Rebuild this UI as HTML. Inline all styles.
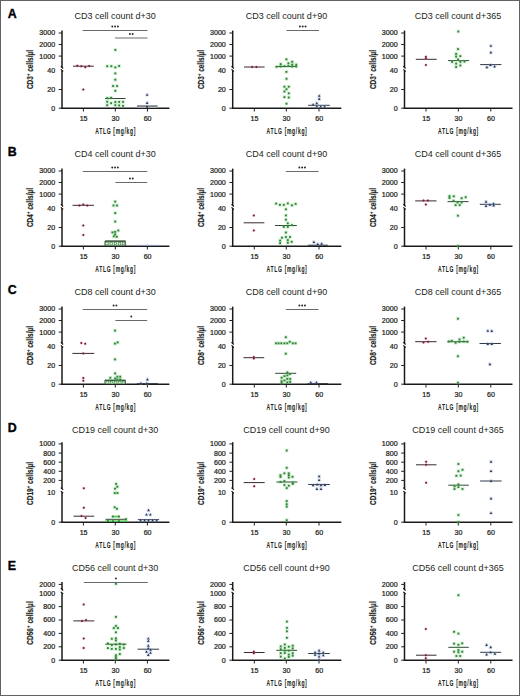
<!DOCTYPE html>
<html><head><meta charset="utf-8"><style>
html,body{margin:0;padding:0;background:#fff;}
body{width:520px;height:696px;overflow:hidden;}
svg{display:block;font-family:"Liberation Sans",sans-serif;fill:#231f20;}
.tk{stroke:#231f20;stroke-width:0.22px;}
</style></head><body>
<svg width="520" height="696" viewBox="0 0 520 696" xmlns="http://www.w3.org/2000/svg">
<rect x="0.5" y="0.5" width="519" height="695" fill="#fff" stroke="#626262" stroke-width="1"/>
<text x="7.8" y="17.9" font-size="12.4" text-anchor="start" font-weight="bold" fill="#000" stroke="#000" stroke-width="0.35">A</text>
<text x="115.2" y="19.3" font-size="9.0" text-anchor="middle">CD3 cell count d+30</text>
<line x1="62" y1="30.6" x2="62" y2="67.1" stroke="#1a1a1a" stroke-width="1.5"/>
<line x1="62" y1="70.8" x2="62" y2="109" stroke="#1a1a1a" stroke-width="1.5"/>
<path d="M60.85 66.3L63.1 68.45" stroke="#111" stroke-width="1.25" fill="none"/>
<path d="M60.85 69.4L63.1 71.55" stroke="#111" stroke-width="1.25" fill="none"/>
<line x1="58.7" y1="33" x2="62" y2="33" stroke="#231f20" stroke-width="1.0"/>
<text x="55.1" y="35.4" font-size="6.8" text-anchor="end" textLength="15.8" lengthAdjust="spacingAndGlyphs" class="tk">3000</text>
<line x1="58.7" y1="44.5" x2="62" y2="44.5" stroke="#231f20" stroke-width="1.0"/>
<text x="55.1" y="46.9" font-size="6.8" text-anchor="end" textLength="15.8" lengthAdjust="spacingAndGlyphs" class="tk">2000</text>
<line x1="58.7" y1="56.1" x2="62" y2="56.1" stroke="#231f20" stroke-width="1.0"/>
<text x="55.1" y="58.5" font-size="6.8" text-anchor="end" textLength="15.8" lengthAdjust="spacingAndGlyphs" class="tk">1000</text>
<text x="55.1" y="73.3" font-size="6.8" text-anchor="end" textLength="7.9" lengthAdjust="spacingAndGlyphs" class="tk">40</text>
<line x1="58.7" y1="89.5" x2="62" y2="89.5" stroke="#231f20" stroke-width="1.0"/>
<text x="55.1" y="91.9" font-size="6.8" text-anchor="end" textLength="7.9" lengthAdjust="spacingAndGlyphs" class="tk">20</text>
<line x1="58.7" y1="108.2" x2="62" y2="108.2" stroke="#231f20" stroke-width="1.0"/>
<text x="55.1" y="110.6" font-size="6.8" text-anchor="end" textLength="3.95" lengthAdjust="spacingAndGlyphs" class="tk">0</text>
<line x1="61.25" y1="108.3" x2="169.4" y2="108.3" stroke="#1a1a1a" stroke-width="1.4"/>
<line x1="83.4" y1="108.3" x2="83.4" y2="111.5" stroke="#231f20" stroke-width="1.0"/>
<text x="83.6" y="120.9" font-size="6.8" text-anchor="middle" textLength="7.9" lengthAdjust="spacingAndGlyphs" class="tk">15</text>
<line x1="115.3" y1="108.3" x2="115.3" y2="111.5" stroke="#231f20" stroke-width="1.0"/>
<text x="115.5" y="120.9" font-size="6.8" text-anchor="middle" textLength="7.9" lengthAdjust="spacingAndGlyphs" class="tk">30</text>
<line x1="147.4" y1="108.3" x2="147.4" y2="111.5" stroke="#231f20" stroke-width="1.0"/>
<text x="147.6" y="120.9" font-size="6.8" text-anchor="middle" textLength="7.9" lengthAdjust="spacingAndGlyphs" class="tk">60</text>
<text transform="translate(115.4,133.7) scale(0.545,1)" font-size="9.2" font-weight="bold" stroke="#231f20" stroke-width="0.1" text-anchor="middle" textLength="73.76" lengthAdjust="spacing">ATLG [mg/kg]</text>
<text transform="translate(33,69.55) rotate(-90) scale(0.68,1)" font-size="9.5" font-weight="bold" stroke="#231f20" stroke-width="0.18" text-anchor="middle" textLength="57.5" lengthAdjust="spacing">CD3<tspan font-size="6.2" dy="-2.9">+</tspan><tspan dy="2.9"> cells/µl</tspan></text>
<rect x="137.2" y="106.2" width="20.2" height="1.4" fill="#c4c8d4"/>
<rect x="146.2" y="106" width="1.8" height="1.8" fill="#303848"/>
<line x1="73" y1="66.2" x2="93.8" y2="66.2" stroke="#3a2830" stroke-width="1.0"/>
<line x1="105" y1="98.5" x2="125.6" y2="98.5" stroke="#2e4a32" stroke-width="1.0"/>
<line x1="137" y1="106" x2="157.6" y2="106" stroke="#333846" stroke-width="1.0"/>
<circle cx="77.3" cy="65.8" r="1.7" fill="#e87896" opacity=".3"/><circle cx="77.3" cy="65.8" r="1.0" fill="#6e1a34"/>
<circle cx="81.3" cy="66.3" r="1.7" fill="#e87896" opacity=".3"/><circle cx="81.3" cy="66.3" r="1.0" fill="#6e1a34"/>
<circle cx="85.3" cy="67.2" r="1.7" fill="#e87896" opacity=".3"/><circle cx="85.3" cy="67.2" r="1.0" fill="#6e1a34"/>
<circle cx="89.2" cy="65.9" r="1.7" fill="#e87896" opacity=".3"/><circle cx="89.2" cy="65.9" r="1.0" fill="#6e1a34"/>
<circle cx="83.3" cy="89.6" r="1.7" fill="#e87896" opacity=".3"/><circle cx="83.3" cy="89.6" r="1.0" fill="#6e1a34"/>
<rect x="113.5" y="48.1" width="3.6" height="3.6" fill="#5ccc5c" opacity=".3"/><rect x="114.4" y="49" width="1.8" height="1.8" fill="#347a3e"/>
<rect x="105.4" y="64.4" width="3.6" height="3.6" fill="#5ccc5c" opacity=".3"/><rect x="106.3" y="65.3" width="1.8" height="1.8" fill="#347a3e"/>
<rect x="109.5" y="64.4" width="3.6" height="3.6" fill="#5ccc5c" opacity=".3"/><rect x="110.4" y="65.3" width="1.8" height="1.8" fill="#347a3e"/>
<rect x="113.5" y="65.6" width="3.6" height="3.6" fill="#5ccc5c" opacity=".3"/><rect x="114.4" y="66.5" width="1.8" height="1.8" fill="#347a3e"/>
<rect x="117.3" y="64.2" width="3.6" height="3.6" fill="#5ccc5c" opacity=".3"/><rect x="118.2" y="65.1" width="1.8" height="1.8" fill="#347a3e"/>
<rect x="113.5" y="71.6" width="3.6" height="3.6" fill="#5ccc5c" opacity=".3"/><rect x="114.4" y="72.5" width="1.8" height="1.8" fill="#347a3e"/>
<rect x="113.5" y="77.9" width="3.6" height="3.6" fill="#5ccc5c" opacity=".3"/><rect x="114.4" y="78.8" width="1.8" height="1.8" fill="#347a3e"/>
<rect x="111.3" y="84.2" width="3.6" height="3.6" fill="#5ccc5c" opacity=".3"/><rect x="112.2" y="85.1" width="1.8" height="1.8" fill="#347a3e"/>
<rect x="115.3" y="84.2" width="3.6" height="3.6" fill="#5ccc5c" opacity=".3"/><rect x="116.2" y="85.1" width="1.8" height="1.8" fill="#347a3e"/>
<rect x="113.5" y="89" width="3.6" height="3.6" fill="#5ccc5c" opacity=".3"/><rect x="114.4" y="89.9" width="1.8" height="1.8" fill="#347a3e"/>
<rect x="105.4" y="96.3" width="3.6" height="3.6" fill="#5ccc5c" opacity=".3"/><rect x="106.3" y="97.2" width="1.8" height="1.8" fill="#347a3e"/>
<rect x="109.3" y="96" width="3.6" height="3.6" fill="#5ccc5c" opacity=".3"/><rect x="110.2" y="96.9" width="1.8" height="1.8" fill="#347a3e"/>
<rect x="105.4" y="99.9" width="3.6" height="3.6" fill="#5ccc5c" opacity=".3"/><rect x="106.3" y="100.8" width="1.8" height="1.8" fill="#347a3e"/>
<rect x="109.3" y="101.4" width="3.6" height="3.6" fill="#5ccc5c" opacity=".3"/><rect x="110.2" y="102.3" width="1.8" height="1.8" fill="#347a3e"/>
<rect x="113.5" y="100.2" width="3.6" height="3.6" fill="#5ccc5c" opacity=".3"/><rect x="114.4" y="101.1" width="1.8" height="1.8" fill="#347a3e"/>
<rect x="117.3" y="100.1" width="3.6" height="3.6" fill="#5ccc5c" opacity=".3"/><rect x="118.2" y="101" width="1.8" height="1.8" fill="#347a3e"/>
<rect x="121.2" y="100.1" width="3.6" height="3.6" fill="#5ccc5c" opacity=".3"/><rect x="122.1" y="101" width="1.8" height="1.8" fill="#347a3e"/>
<rect x="105.4" y="103.4" width="3.6" height="3.6" fill="#5ccc5c" opacity=".3"/><rect x="106.3" y="104.3" width="1.8" height="1.8" fill="#347a3e"/>
<rect x="113.5" y="103.4" width="3.6" height="3.6" fill="#5ccc5c" opacity=".3"/><rect x="114.4" y="104.3" width="1.8" height="1.8" fill="#347a3e"/>
<rect x="117.3" y="103.6" width="3.6" height="3.6" fill="#5ccc5c" opacity=".3"/><rect x="118.2" y="104.5" width="1.8" height="1.8" fill="#347a3e"/>
<rect x="121.2" y="104.1" width="3.6" height="3.6" fill="#5ccc5c" opacity=".3"/><rect x="122.1" y="105" width="1.8" height="1.8" fill="#347a3e"/>
<rect x="145.3" y="93" width="3.6" height="3.6" fill="#8aa4d8" opacity=".3"/><path d="M147.1 93.4L148.4 95.8L145.8 95.8Z" fill="#2c3850"/>
<rect x="145.3" y="101.1" width="3.6" height="3.6" fill="#8aa4d8" opacity=".3"/><path d="M147.1 101.5L148.4 103.9L145.8 103.9Z" fill="#2c3850"/>
<line x1="82.7" y1="30.5" x2="147.5" y2="30.5" stroke="#6a6a6a" stroke-width="1.0"/>
<circle cx="112.3" cy="26.5" r="0.95" fill="#222"/>
<circle cx="115.1" cy="26.5" r="0.95" fill="#222"/>
<circle cx="117.9" cy="26.5" r="0.95" fill="#222"/>
<line x1="115" y1="38" x2="147.5" y2="38" stroke="#6a6a6a" stroke-width="1.0"/>
<circle cx="129.85" cy="34" r="0.95" fill="#222"/>
<circle cx="132.65" cy="34" r="0.95" fill="#222"/>
<text x="286.5" y="19.3" font-size="9.0" text-anchor="middle">CD3 cell count d+90</text>
<line x1="232.7" y1="30.6" x2="232.7" y2="67.1" stroke="#1a1a1a" stroke-width="1.5"/>
<line x1="232.7" y1="70.8" x2="232.7" y2="109" stroke="#1a1a1a" stroke-width="1.5"/>
<path d="M231.55 66.3L233.8 68.45" stroke="#111" stroke-width="1.25" fill="none"/>
<path d="M231.55 69.4L233.8 71.55" stroke="#111" stroke-width="1.25" fill="none"/>
<line x1="229.4" y1="33" x2="232.7" y2="33" stroke="#231f20" stroke-width="1.0"/>
<text x="225.8" y="35.4" font-size="6.8" text-anchor="end" textLength="15.8" lengthAdjust="spacingAndGlyphs" class="tk">3000</text>
<line x1="229.4" y1="44.5" x2="232.7" y2="44.5" stroke="#231f20" stroke-width="1.0"/>
<text x="225.8" y="46.9" font-size="6.8" text-anchor="end" textLength="15.8" lengthAdjust="spacingAndGlyphs" class="tk">2000</text>
<line x1="229.4" y1="56.1" x2="232.7" y2="56.1" stroke="#231f20" stroke-width="1.0"/>
<text x="225.8" y="58.5" font-size="6.8" text-anchor="end" textLength="15.8" lengthAdjust="spacingAndGlyphs" class="tk">1000</text>
<text x="225.8" y="73.3" font-size="6.8" text-anchor="end" textLength="7.9" lengthAdjust="spacingAndGlyphs" class="tk">40</text>
<line x1="229.4" y1="89.5" x2="232.7" y2="89.5" stroke="#231f20" stroke-width="1.0"/>
<text x="225.8" y="91.9" font-size="6.8" text-anchor="end" textLength="7.9" lengthAdjust="spacingAndGlyphs" class="tk">20</text>
<line x1="229.4" y1="108.2" x2="232.7" y2="108.2" stroke="#231f20" stroke-width="1.0"/>
<text x="225.8" y="110.6" font-size="6.8" text-anchor="end" textLength="3.95" lengthAdjust="spacingAndGlyphs" class="tk">0</text>
<line x1="231.95" y1="108.3" x2="341.3" y2="108.3" stroke="#1a1a1a" stroke-width="1.4"/>
<line x1="254.3" y1="108.3" x2="254.3" y2="111.5" stroke="#231f20" stroke-width="1.0"/>
<text x="254.5" y="120.9" font-size="6.8" text-anchor="middle" textLength="7.9" lengthAdjust="spacingAndGlyphs" class="tk">15</text>
<line x1="286.3" y1="108.3" x2="286.3" y2="111.5" stroke="#231f20" stroke-width="1.0"/>
<text x="286.5" y="120.9" font-size="6.8" text-anchor="middle" textLength="7.9" lengthAdjust="spacingAndGlyphs" class="tk">30</text>
<line x1="319" y1="108.3" x2="319" y2="111.5" stroke="#231f20" stroke-width="1.0"/>
<text x="319.2" y="120.9" font-size="6.8" text-anchor="middle" textLength="7.9" lengthAdjust="spacingAndGlyphs" class="tk">60</text>
<text transform="translate(286.7,133.7) scale(0.545,1)" font-size="9.2" font-weight="bold" stroke="#231f20" stroke-width="0.1" text-anchor="middle" textLength="73.76" lengthAdjust="spacing">ATLG [mg/kg]</text>
<text transform="translate(203.7,69.55) rotate(-90) scale(0.68,1)" font-size="9.5" font-weight="bold" stroke="#231f20" stroke-width="0.18" text-anchor="middle" textLength="57.5" lengthAdjust="spacing">CD3<tspan font-size="6.2" dy="-2.9">+</tspan><tspan dy="2.9"> cells/µl</tspan></text>
<line x1="244" y1="67" x2="264.6" y2="67" stroke="#3a2830" stroke-width="1.0"/>
<line x1="276" y1="66.5" x2="297" y2="66.5" stroke="#2e4a32" stroke-width="1.0"/>
<line x1="308.1" y1="105.3" x2="329.8" y2="105.3" stroke="#333846" stroke-width="1.0"/>
<circle cx="252.1" cy="67" r="1.7" fill="#e87896" opacity=".3"/><circle cx="252.1" cy="67" r="1.0" fill="#6e1a34"/>
<circle cx="256.4" cy="67" r="1.7" fill="#e87896" opacity=".3"/><circle cx="256.4" cy="67" r="1.0" fill="#6e1a34"/>
<rect x="284.6" y="57.5" width="3.6" height="3.6" fill="#5ccc5c" opacity=".3"/><rect x="285.5" y="58.4" width="1.8" height="1.8" fill="#347a3e"/>
<rect x="290.4" y="60" width="3.6" height="3.6" fill="#5ccc5c" opacity=".3"/><rect x="291.3" y="60.9" width="1.8" height="1.8" fill="#347a3e"/>
<rect x="278.9" y="62.3" width="3.6" height="3.6" fill="#5ccc5c" opacity=".3"/><rect x="279.8" y="63.2" width="1.8" height="1.8" fill="#347a3e"/>
<rect x="286.6" y="61.5" width="3.6" height="3.6" fill="#5ccc5c" opacity=".3"/><rect x="287.5" y="62.4" width="1.8" height="1.8" fill="#347a3e"/>
<rect x="290.4" y="62.9" width="3.6" height="3.6" fill="#5ccc5c" opacity=".3"/><rect x="291.3" y="63.8" width="1.8" height="1.8" fill="#347a3e"/>
<rect x="294.4" y="62.9" width="3.6" height="3.6" fill="#5ccc5c" opacity=".3"/><rect x="295.3" y="63.8" width="1.8" height="1.8" fill="#347a3e"/>
<rect x="274.7" y="65" width="3.6" height="3.6" fill="#5ccc5c" opacity=".3"/><rect x="275.6" y="65.9" width="1.8" height="1.8" fill="#347a3e"/>
<rect x="278.9" y="64.7" width="3.6" height="3.6" fill="#5ccc5c" opacity=".3"/><rect x="279.8" y="65.6" width="1.8" height="1.8" fill="#347a3e"/>
<rect x="282.7" y="64.4" width="3.6" height="3.6" fill="#5ccc5c" opacity=".3"/><rect x="283.6" y="65.3" width="1.8" height="1.8" fill="#347a3e"/>
<rect x="286.6" y="64.2" width="3.6" height="3.6" fill="#5ccc5c" opacity=".3"/><rect x="287.5" y="65.1" width="1.8" height="1.8" fill="#347a3e"/>
<rect x="290.4" y="64.7" width="3.6" height="3.6" fill="#5ccc5c" opacity=".3"/><rect x="291.3" y="65.6" width="1.8" height="1.8" fill="#347a3e"/>
<rect x="294.4" y="64.7" width="3.6" height="3.6" fill="#5ccc5c" opacity=".3"/><rect x="295.3" y="65.6" width="1.8" height="1.8" fill="#347a3e"/>
<rect x="284.6" y="70.1" width="3.6" height="3.6" fill="#5ccc5c" opacity=".3"/><rect x="285.5" y="71" width="1.8" height="1.8" fill="#347a3e"/>
<rect x="284.7" y="77" width="3.6" height="3.6" fill="#5ccc5c" opacity=".3"/><rect x="285.6" y="77.9" width="1.8" height="1.8" fill="#347a3e"/>
<rect x="282.6" y="84.9" width="3.6" height="3.6" fill="#5ccc5c" opacity=".3"/><rect x="283.5" y="85.8" width="1.8" height="1.8" fill="#347a3e"/>
<rect x="287" y="84.9" width="3.6" height="3.6" fill="#5ccc5c" opacity=".3"/><rect x="287.9" y="85.8" width="1.8" height="1.8" fill="#347a3e"/>
<rect x="284.7" y="87.4" width="3.6" height="3.6" fill="#5ccc5c" opacity=".3"/><rect x="285.6" y="88.3" width="1.8" height="1.8" fill="#347a3e"/>
<rect x="282.6" y="89.7" width="3.6" height="3.6" fill="#5ccc5c" opacity=".3"/><rect x="283.5" y="90.6" width="1.8" height="1.8" fill="#347a3e"/>
<rect x="287" y="91.5" width="3.6" height="3.6" fill="#5ccc5c" opacity=".3"/><rect x="287.9" y="92.4" width="1.8" height="1.8" fill="#347a3e"/>
<rect x="282.6" y="95.3" width="3.6" height="3.6" fill="#5ccc5c" opacity=".3"/><rect x="283.5" y="96.2" width="1.8" height="1.8" fill="#347a3e"/>
<rect x="287" y="95.7" width="3.6" height="3.6" fill="#5ccc5c" opacity=".3"/><rect x="287.9" y="96.6" width="1.8" height="1.8" fill="#347a3e"/>
<rect x="284.7" y="101.9" width="3.6" height="3.6" fill="#5ccc5c" opacity=".3"/><rect x="285.6" y="102.8" width="1.8" height="1.8" fill="#347a3e"/>
<rect x="317.4" y="94" width="3.6" height="3.6" fill="#8aa4d8" opacity=".3"/><path d="M319.2 94.4L320.5 96.8L317.9 96.8Z" fill="#2c3850"/>
<rect x="317.4" y="97.2" width="3.6" height="3.6" fill="#8aa4d8" opacity=".3"/><path d="M319.2 97.6L320.5 100L317.9 100Z" fill="#2c3850"/>
<rect x="315" y="101.4" width="3.6" height="3.6" fill="#8aa4d8" opacity=".3"/><path d="M316.8 101.8L318.1 104.2L315.5 104.2Z" fill="#2c3850"/>
<rect x="311.3" y="102.8" width="3.6" height="3.6" fill="#8aa4d8" opacity=".3"/><path d="M313.1 103.2L314.4 105.6L311.8 105.6Z" fill="#2c3850"/>
<rect x="315" y="104.8" width="3.6" height="3.6" fill="#8aa4d8" opacity=".3"/><path d="M316.8 105.2L318.1 107.6L315.5 107.6Z" fill="#2c3850"/>
<rect x="318.9" y="104.8" width="3.6" height="3.6" fill="#8aa4d8" opacity=".3"/><path d="M320.7 105.2L322 107.6L319.4 107.6Z" fill="#2c3850"/>
<rect x="322.8" y="104.8" width="3.6" height="3.6" fill="#8aa4d8" opacity=".3"/><path d="M324.6 105.2L325.9 107.6L323.3 107.6Z" fill="#2c3850"/>
<line x1="286.4" y1="30.5" x2="319" y2="30.5" stroke="#6a6a6a" stroke-width="1.0"/>
<circle cx="299.9" cy="26.5" r="0.95" fill="#222"/>
<circle cx="302.7" cy="26.5" r="0.95" fill="#222"/>
<circle cx="305.5" cy="26.5" r="0.95" fill="#222"/>
<text x="458" y="19.3" font-size="9.0" text-anchor="middle">CD3 cell count d+365</text>
<line x1="404.5" y1="30.6" x2="404.5" y2="67.1" stroke="#1a1a1a" stroke-width="1.5"/>
<line x1="404.5" y1="70.8" x2="404.5" y2="109" stroke="#1a1a1a" stroke-width="1.5"/>
<path d="M403.35 66.3L405.6 68.45" stroke="#111" stroke-width="1.25" fill="none"/>
<path d="M403.35 69.4L405.6 71.55" stroke="#111" stroke-width="1.25" fill="none"/>
<line x1="401.2" y1="33" x2="404.5" y2="33" stroke="#231f20" stroke-width="1.0"/>
<text x="397.6" y="35.4" font-size="6.8" text-anchor="end" textLength="15.8" lengthAdjust="spacingAndGlyphs" class="tk">3000</text>
<line x1="401.2" y1="44.5" x2="404.5" y2="44.5" stroke="#231f20" stroke-width="1.0"/>
<text x="397.6" y="46.9" font-size="6.8" text-anchor="end" textLength="15.8" lengthAdjust="spacingAndGlyphs" class="tk">2000</text>
<line x1="401.2" y1="56.1" x2="404.5" y2="56.1" stroke="#231f20" stroke-width="1.0"/>
<text x="397.6" y="58.5" font-size="6.8" text-anchor="end" textLength="15.8" lengthAdjust="spacingAndGlyphs" class="tk">1000</text>
<text x="397.6" y="73.3" font-size="6.8" text-anchor="end" textLength="7.9" lengthAdjust="spacingAndGlyphs" class="tk">40</text>
<line x1="401.2" y1="89.5" x2="404.5" y2="89.5" stroke="#231f20" stroke-width="1.0"/>
<text x="397.6" y="91.9" font-size="6.8" text-anchor="end" textLength="7.9" lengthAdjust="spacingAndGlyphs" class="tk">20</text>
<line x1="401.2" y1="108.2" x2="404.5" y2="108.2" stroke="#231f20" stroke-width="1.0"/>
<text x="397.6" y="110.6" font-size="6.8" text-anchor="end" textLength="3.95" lengthAdjust="spacingAndGlyphs" class="tk">0</text>
<line x1="403.75" y1="108.3" x2="512.5" y2="108.3" stroke="#1a1a1a" stroke-width="1.4"/>
<line x1="426" y1="108.3" x2="426" y2="111.5" stroke="#231f20" stroke-width="1.0"/>
<text x="426.2" y="120.9" font-size="6.8" text-anchor="middle" textLength="7.9" lengthAdjust="spacingAndGlyphs" class="tk">15</text>
<line x1="458.3" y1="108.3" x2="458.3" y2="111.5" stroke="#231f20" stroke-width="1.0"/>
<text x="458.5" y="120.9" font-size="6.8" text-anchor="middle" textLength="7.9" lengthAdjust="spacingAndGlyphs" class="tk">30</text>
<line x1="490.8" y1="108.3" x2="490.8" y2="111.5" stroke="#231f20" stroke-width="1.0"/>
<text x="491" y="120.9" font-size="6.8" text-anchor="middle" textLength="7.9" lengthAdjust="spacingAndGlyphs" class="tk">60</text>
<text transform="translate(458.2,133.7) scale(0.545,1)" font-size="9.2" font-weight="bold" stroke="#231f20" stroke-width="0.1" text-anchor="middle" textLength="73.76" lengthAdjust="spacing">ATLG [mg/kg]</text>
<text transform="translate(375.5,69.55) rotate(-90) scale(0.68,1)" font-size="9.5" font-weight="bold" stroke="#231f20" stroke-width="0.18" text-anchor="middle" textLength="57.5" lengthAdjust="spacing">CD3<tspan font-size="6.2" dy="-2.9">+</tspan><tspan dy="2.9"> cells/µl</tspan></text>
<line x1="415.8" y1="59.3" x2="436.7" y2="59.3" stroke="#3a2830" stroke-width="1.0"/>
<line x1="448.1" y1="60.6" x2="469.1" y2="60.6" stroke="#2e4a32" stroke-width="1.0"/>
<line x1="480.2" y1="64.6" x2="501.4" y2="64.6" stroke="#333846" stroke-width="1.0"/>
<circle cx="425.9" cy="56.7" r="1.7" fill="#e87896" opacity=".3"/><circle cx="425.9" cy="56.7" r="1.0" fill="#6e1a34"/>
<circle cx="425.9" cy="58.3" r="1.7" fill="#e87896" opacity=".3"/><circle cx="425.9" cy="58.3" r="1.0" fill="#6e1a34"/>
<circle cx="425.9" cy="65" r="1.7" fill="#e87896" opacity=".3"/><circle cx="425.9" cy="65" r="1.0" fill="#6e1a34"/>
<rect x="456.5" y="29.7" width="3.6" height="3.6" fill="#5ccc5c" opacity=".3"/><rect x="457.4" y="30.6" width="1.8" height="1.8" fill="#347a3e"/>
<rect x="456.2" y="47.3" width="3.6" height="3.6" fill="#5ccc5c" opacity=".3"/><rect x="457.1" y="48.2" width="1.8" height="1.8" fill="#347a3e"/>
<rect x="454.3" y="52.1" width="3.6" height="3.6" fill="#5ccc5c" opacity=".3"/><rect x="455.2" y="53" width="1.8" height="1.8" fill="#347a3e"/>
<rect x="454.3" y="54.8" width="3.6" height="3.6" fill="#5ccc5c" opacity=".3"/><rect x="455.2" y="55.7" width="1.8" height="1.8" fill="#347a3e"/>
<rect x="458.5" y="54.3" width="3.6" height="3.6" fill="#5ccc5c" opacity=".3"/><rect x="459.4" y="55.2" width="1.8" height="1.8" fill="#347a3e"/>
<rect x="456.3" y="57.7" width="3.6" height="3.6" fill="#5ccc5c" opacity=".3"/><rect x="457.2" y="58.6" width="1.8" height="1.8" fill="#347a3e"/>
<rect x="450.3" y="60.1" width="3.6" height="3.6" fill="#5ccc5c" opacity=".3"/><rect x="451.2" y="61" width="1.8" height="1.8" fill="#347a3e"/>
<rect x="458.6" y="60.1" width="3.6" height="3.6" fill="#5ccc5c" opacity=".3"/><rect x="459.5" y="61" width="1.8" height="1.8" fill="#347a3e"/>
<rect x="462.7" y="59.8" width="3.6" height="3.6" fill="#5ccc5c" opacity=".3"/><rect x="463.6" y="60.7" width="1.8" height="1.8" fill="#347a3e"/>
<rect x="454.3" y="61.8" width="3.6" height="3.6" fill="#5ccc5c" opacity=".3"/><rect x="455.2" y="62.7" width="1.8" height="1.8" fill="#347a3e"/>
<rect x="458.5" y="63.7" width="3.6" height="3.6" fill="#5ccc5c" opacity=".3"/><rect x="459.4" y="64.6" width="1.8" height="1.8" fill="#347a3e"/>
<rect x="454.3" y="65.2" width="3.6" height="3.6" fill="#5ccc5c" opacity=".3"/><rect x="455.2" y="66.1" width="1.8" height="1.8" fill="#347a3e"/>
<rect x="489.1" y="44" width="3.6" height="3.6" fill="#8aa4d8" opacity=".3"/><path d="M490.9 44.4L492.2 46.8L489.6 46.8Z" fill="#2c3850"/>
<rect x="489.1" y="50.7" width="3.6" height="3.6" fill="#8aa4d8" opacity=".3"/><path d="M490.9 51.1L492.2 53.5L489.6 53.5Z" fill="#2c3850"/>
<rect x="485.1" y="65.4" width="3.6" height="3.6" fill="#8aa4d8" opacity=".3"/><path d="M486.9 65.8L488.2 68.2L485.6 68.2Z" fill="#2c3850"/>
<rect x="488.7" y="63.3" width="3.6" height="3.6" fill="#8aa4d8" opacity=".3"/><path d="M490.5 63.7L491.8 66.1L489.2 66.1Z" fill="#2c3850"/>
<rect x="492.8" y="64.6" width="3.6" height="3.6" fill="#8aa4d8" opacity=".3"/><path d="M494.6 65L495.9 67.4L493.3 67.4Z" fill="#2c3850"/>
<text x="7.8" y="155.9" font-size="12.4" text-anchor="start" font-weight="bold" fill="#000" stroke="#000" stroke-width="0.35">B</text>
<text x="115.2" y="157.3" font-size="9.0" text-anchor="middle">CD4 cell count d+30</text>
<line x1="62" y1="168.6" x2="62" y2="205.1" stroke="#1a1a1a" stroke-width="1.5"/>
<line x1="62" y1="208.8" x2="62" y2="247" stroke="#1a1a1a" stroke-width="1.5"/>
<path d="M60.85 204.3L63.1 206.45" stroke="#111" stroke-width="1.25" fill="none"/>
<path d="M60.85 207.4L63.1 209.55" stroke="#111" stroke-width="1.25" fill="none"/>
<line x1="58.7" y1="171" x2="62" y2="171" stroke="#231f20" stroke-width="1.0"/>
<text x="55.1" y="173.4" font-size="6.8" text-anchor="end" textLength="15.8" lengthAdjust="spacingAndGlyphs" class="tk">3000</text>
<line x1="58.7" y1="182.5" x2="62" y2="182.5" stroke="#231f20" stroke-width="1.0"/>
<text x="55.1" y="184.9" font-size="6.8" text-anchor="end" textLength="15.8" lengthAdjust="spacingAndGlyphs" class="tk">2000</text>
<line x1="58.7" y1="194.1" x2="62" y2="194.1" stroke="#231f20" stroke-width="1.0"/>
<text x="55.1" y="196.5" font-size="6.8" text-anchor="end" textLength="15.8" lengthAdjust="spacingAndGlyphs" class="tk">1000</text>
<text x="55.1" y="211.3" font-size="6.8" text-anchor="end" textLength="7.9" lengthAdjust="spacingAndGlyphs" class="tk">40</text>
<line x1="58.7" y1="227.5" x2="62" y2="227.5" stroke="#231f20" stroke-width="1.0"/>
<text x="55.1" y="229.9" font-size="6.8" text-anchor="end" textLength="7.9" lengthAdjust="spacingAndGlyphs" class="tk">20</text>
<line x1="58.7" y1="246.2" x2="62" y2="246.2" stroke="#231f20" stroke-width="1.0"/>
<text x="55.1" y="248.6" font-size="6.8" text-anchor="end" textLength="3.95" lengthAdjust="spacingAndGlyphs" class="tk">0</text>
<line x1="61.25" y1="246.3" x2="169.4" y2="246.3" stroke="#1a1a1a" stroke-width="1.4"/>
<line x1="83.4" y1="246.3" x2="83.4" y2="249.5" stroke="#231f20" stroke-width="1.0"/>
<text x="83.6" y="258.9" font-size="6.8" text-anchor="middle" textLength="7.9" lengthAdjust="spacingAndGlyphs" class="tk">15</text>
<line x1="115.3" y1="246.3" x2="115.3" y2="249.5" stroke="#231f20" stroke-width="1.0"/>
<text x="115.5" y="258.9" font-size="6.8" text-anchor="middle" textLength="7.9" lengthAdjust="spacingAndGlyphs" class="tk">30</text>
<line x1="147.4" y1="246.3" x2="147.4" y2="249.5" stroke="#231f20" stroke-width="1.0"/>
<text x="147.6" y="258.9" font-size="6.8" text-anchor="middle" textLength="7.9" lengthAdjust="spacingAndGlyphs" class="tk">60</text>
<text transform="translate(115.4,271.7) scale(0.545,1)" font-size="9.2" font-weight="bold" stroke="#231f20" stroke-width="0.1" text-anchor="middle" textLength="73.76" lengthAdjust="spacing">ATLG [mg/kg]</text>
<text transform="translate(33,207.55) rotate(-90) scale(0.68,1)" font-size="9.5" font-weight="bold" stroke="#231f20" stroke-width="0.18" text-anchor="middle" textLength="57.5" lengthAdjust="spacing">CD4<tspan font-size="6.2" dy="-2.9">+</tspan><tspan dy="2.9"> cells/µl</tspan></text>
<rect x="104.9" y="241.4" width="20.6" height="4.4" fill="#bfeebf" stroke="#24402a" stroke-width="0.7"/>
<rect x="105.8" y="242.4" width="2.4" height="2.4" fill="#e4f8e4" stroke="#3a6a3e" stroke-width="0.5"/>
<rect x="110" y="242.5" width="2.4" height="2.4" fill="#e4f8e4" stroke="#3a6a3e" stroke-width="0.5"/>
<rect x="114.2" y="242.4" width="2.4" height="2.4" fill="#e4f8e4" stroke="#3a6a3e" stroke-width="0.5"/>
<rect x="118.4" y="242.5" width="2.4" height="2.4" fill="#e4f8e4" stroke="#3a6a3e" stroke-width="0.5"/>
<rect x="122.2" y="242.4" width="2.4" height="2.4" fill="#e4f8e4" stroke="#3a6a3e" stroke-width="0.5"/>
<line x1="72.5" y1="205.3" x2="94" y2="205.3" stroke="#3a2830" stroke-width="1.0"/>
<line x1="105" y1="240.9" x2="125.6" y2="240.9" stroke="#2e4a32" stroke-width="1.0"/>
<line x1="137" y1="245.4" x2="159" y2="245.4" stroke="#8a98b8" stroke-width="1.0"/>
<circle cx="79.4" cy="205.5" r="1.7" fill="#e87896" opacity=".3"/><circle cx="79.4" cy="205.5" r="1.0" fill="#6e1a34"/>
<circle cx="83.3" cy="204.4" r="1.7" fill="#e87896" opacity=".3"/><circle cx="83.3" cy="204.4" r="1.0" fill="#6e1a34"/>
<circle cx="87.3" cy="205.6" r="1.7" fill="#e87896" opacity=".3"/><circle cx="87.3" cy="205.6" r="1.0" fill="#6e1a34"/>
<circle cx="83.3" cy="225.4" r="1.7" fill="#e87896" opacity=".3"/><circle cx="83.3" cy="225.4" r="1.0" fill="#6e1a34"/>
<circle cx="83.3" cy="235.1" r="1.7" fill="#e87896" opacity=".3"/><circle cx="83.3" cy="235.1" r="1.0" fill="#6e1a34"/>
<rect x="113.4" y="199.8" width="3.6" height="3.6" fill="#5ccc5c" opacity=".3"/><rect x="114.3" y="200.7" width="1.8" height="1.8" fill="#347a3e"/>
<rect x="111.7" y="203.7" width="3.6" height="3.6" fill="#5ccc5c" opacity=".3"/><rect x="112.6" y="204.6" width="1.8" height="1.8" fill="#347a3e"/>
<rect x="115.2" y="203.7" width="3.6" height="3.6" fill="#5ccc5c" opacity=".3"/><rect x="116.1" y="204.6" width="1.8" height="1.8" fill="#347a3e"/>
<rect x="113.4" y="211.3" width="3.6" height="3.6" fill="#5ccc5c" opacity=".3"/><rect x="114.3" y="212.2" width="1.8" height="1.8" fill="#347a3e"/>
<rect x="113.4" y="219.7" width="3.6" height="3.6" fill="#5ccc5c" opacity=".3"/><rect x="114.3" y="220.6" width="1.8" height="1.8" fill="#347a3e"/>
<rect x="110.6" y="230.6" width="3.6" height="3.6" fill="#5ccc5c" opacity=".3"/><rect x="111.5" y="231.5" width="1.8" height="1.8" fill="#347a3e"/>
<rect x="113.3" y="230.1" width="3.6" height="3.6" fill="#5ccc5c" opacity=".3"/><rect x="114.2" y="231" width="1.8" height="1.8" fill="#347a3e"/>
<rect x="116.5" y="228.7" width="3.6" height="3.6" fill="#5ccc5c" opacity=".3"/><rect x="117.4" y="229.6" width="1.8" height="1.8" fill="#347a3e"/>
<rect x="112" y="234.5" width="3.6" height="3.6" fill="#5ccc5c" opacity=".3"/><rect x="112.9" y="235.4" width="1.8" height="1.8" fill="#347a3e"/>
<rect x="115" y="235" width="3.6" height="3.6" fill="#5ccc5c" opacity=".3"/><rect x="115.9" y="235.9" width="1.8" height="1.8" fill="#347a3e"/>
<rect x="113.3" y="232.6" width="3.6" height="3.6" fill="#5ccc5c" opacity=".3"/><rect x="114.2" y="233.5" width="1.8" height="1.8" fill="#347a3e"/>
<line x1="82.8" y1="171.5" x2="147.3" y2="171.5" stroke="#6a6a6a" stroke-width="1.0"/>
<circle cx="112.25" cy="167.5" r="0.95" fill="#222"/>
<circle cx="115.05" cy="167.5" r="0.95" fill="#222"/>
<circle cx="117.85" cy="167.5" r="0.95" fill="#222"/>
<line x1="115.4" y1="182.5" x2="147.3" y2="182.5" stroke="#6a6a6a" stroke-width="1.0"/>
<circle cx="129.95" cy="178.5" r="0.95" fill="#222"/>
<circle cx="132.75" cy="178.5" r="0.95" fill="#222"/>
<text x="286.5" y="157.3" font-size="9.0" text-anchor="middle">CD4 cell count d+90</text>
<line x1="232.7" y1="168.6" x2="232.7" y2="205.1" stroke="#1a1a1a" stroke-width="1.5"/>
<line x1="232.7" y1="208.8" x2="232.7" y2="247" stroke="#1a1a1a" stroke-width="1.5"/>
<path d="M231.55 204.3L233.8 206.45" stroke="#111" stroke-width="1.25" fill="none"/>
<path d="M231.55 207.4L233.8 209.55" stroke="#111" stroke-width="1.25" fill="none"/>
<line x1="229.4" y1="171" x2="232.7" y2="171" stroke="#231f20" stroke-width="1.0"/>
<text x="225.8" y="173.4" font-size="6.8" text-anchor="end" textLength="15.8" lengthAdjust="spacingAndGlyphs" class="tk">3000</text>
<line x1="229.4" y1="182.5" x2="232.7" y2="182.5" stroke="#231f20" stroke-width="1.0"/>
<text x="225.8" y="184.9" font-size="6.8" text-anchor="end" textLength="15.8" lengthAdjust="spacingAndGlyphs" class="tk">2000</text>
<line x1="229.4" y1="194.1" x2="232.7" y2="194.1" stroke="#231f20" stroke-width="1.0"/>
<text x="225.8" y="196.5" font-size="6.8" text-anchor="end" textLength="15.8" lengthAdjust="spacingAndGlyphs" class="tk">1000</text>
<text x="225.8" y="211.3" font-size="6.8" text-anchor="end" textLength="7.9" lengthAdjust="spacingAndGlyphs" class="tk">40</text>
<line x1="229.4" y1="227.5" x2="232.7" y2="227.5" stroke="#231f20" stroke-width="1.0"/>
<text x="225.8" y="229.9" font-size="6.8" text-anchor="end" textLength="7.9" lengthAdjust="spacingAndGlyphs" class="tk">20</text>
<line x1="229.4" y1="246.2" x2="232.7" y2="246.2" stroke="#231f20" stroke-width="1.0"/>
<text x="225.8" y="248.6" font-size="6.8" text-anchor="end" textLength="3.95" lengthAdjust="spacingAndGlyphs" class="tk">0</text>
<line x1="231.95" y1="246.3" x2="341.3" y2="246.3" stroke="#1a1a1a" stroke-width="1.4"/>
<line x1="254.3" y1="246.3" x2="254.3" y2="249.5" stroke="#231f20" stroke-width="1.0"/>
<text x="254.5" y="258.9" font-size="6.8" text-anchor="middle" textLength="7.9" lengthAdjust="spacingAndGlyphs" class="tk">15</text>
<line x1="286.3" y1="246.3" x2="286.3" y2="249.5" stroke="#231f20" stroke-width="1.0"/>
<text x="286.5" y="258.9" font-size="6.8" text-anchor="middle" textLength="7.9" lengthAdjust="spacingAndGlyphs" class="tk">30</text>
<line x1="319" y1="246.3" x2="319" y2="249.5" stroke="#231f20" stroke-width="1.0"/>
<text x="319.2" y="258.9" font-size="6.8" text-anchor="middle" textLength="7.9" lengthAdjust="spacingAndGlyphs" class="tk">60</text>
<text transform="translate(286.7,271.7) scale(0.545,1)" font-size="9.2" font-weight="bold" stroke="#231f20" stroke-width="0.1" text-anchor="middle" textLength="73.76" lengthAdjust="spacing">ATLG [mg/kg]</text>
<text transform="translate(203.7,207.55) rotate(-90) scale(0.68,1)" font-size="9.5" font-weight="bold" stroke="#231f20" stroke-width="0.18" text-anchor="middle" textLength="57.5" lengthAdjust="spacing">CD4<tspan font-size="6.2" dy="-2.9">+</tspan><tspan dy="2.9"> cells/µl</tspan></text>
<line x1="243.7" y1="222.8" x2="264.4" y2="222.8" stroke="#3a2830" stroke-width="1.0"/>
<line x1="275" y1="225.5" x2="296.8" y2="225.5" stroke="#2e4a32" stroke-width="1.0"/>
<line x1="307.9" y1="245.2" x2="327.8" y2="245.2" stroke="#333846" stroke-width="1.0"/>
<circle cx="253.8" cy="215.4" r="1.7" fill="#e87896" opacity=".3"/><circle cx="253.8" cy="215.4" r="1.0" fill="#6e1a34"/>
<circle cx="253.8" cy="230.4" r="1.7" fill="#e87896" opacity=".3"/><circle cx="253.8" cy="230.4" r="1.0" fill="#6e1a34"/>
<rect x="274.3" y="201.8" width="3.6" height="3.6" fill="#5ccc5c" opacity=".3"/><rect x="275.2" y="202.7" width="1.8" height="1.8" fill="#347a3e"/>
<rect x="278.1" y="203.1" width="3.6" height="3.6" fill="#5ccc5c" opacity=".3"/><rect x="279" y="204" width="1.8" height="1.8" fill="#347a3e"/>
<rect x="282" y="203.1" width="3.6" height="3.6" fill="#5ccc5c" opacity=".3"/><rect x="282.9" y="204" width="1.8" height="1.8" fill="#347a3e"/>
<rect x="286" y="201.6" width="3.6" height="3.6" fill="#5ccc5c" opacity=".3"/><rect x="286.9" y="202.5" width="1.8" height="1.8" fill="#347a3e"/>
<rect x="290.1" y="203.5" width="3.6" height="3.6" fill="#5ccc5c" opacity=".3"/><rect x="291" y="204.4" width="1.8" height="1.8" fill="#347a3e"/>
<rect x="293.8" y="202.1" width="3.6" height="3.6" fill="#5ccc5c" opacity=".3"/><rect x="294.7" y="203" width="1.8" height="1.8" fill="#347a3e"/>
<rect x="284.1" y="207.5" width="3.6" height="3.6" fill="#5ccc5c" opacity=".3"/><rect x="285" y="208.4" width="1.8" height="1.8" fill="#347a3e"/>
<rect x="284.1" y="213.6" width="3.6" height="3.6" fill="#5ccc5c" opacity=".3"/><rect x="285" y="214.5" width="1.8" height="1.8" fill="#347a3e"/>
<rect x="284.1" y="217.9" width="3.6" height="3.6" fill="#5ccc5c" opacity=".3"/><rect x="285" y="218.8" width="1.8" height="1.8" fill="#347a3e"/>
<rect x="286" y="221.5" width="3.6" height="3.6" fill="#5ccc5c" opacity=".3"/><rect x="286.9" y="222.4" width="1.8" height="1.8" fill="#347a3e"/>
<rect x="282" y="225.1" width="3.6" height="3.6" fill="#5ccc5c" opacity=".3"/><rect x="282.9" y="226" width="1.8" height="1.8" fill="#347a3e"/>
<rect x="286" y="225.1" width="3.6" height="3.6" fill="#5ccc5c" opacity=".3"/><rect x="286.9" y="226" width="1.8" height="1.8" fill="#347a3e"/>
<rect x="290.1" y="223.3" width="3.6" height="3.6" fill="#5ccc5c" opacity=".3"/><rect x="291" y="224.2" width="1.8" height="1.8" fill="#347a3e"/>
<rect x="284.1" y="230.7" width="3.6" height="3.6" fill="#5ccc5c" opacity=".3"/><rect x="285" y="231.6" width="1.8" height="1.8" fill="#347a3e"/>
<rect x="280.2" y="235.9" width="3.6" height="3.6" fill="#5ccc5c" opacity=".3"/><rect x="281.1" y="236.8" width="1.8" height="1.8" fill="#347a3e"/>
<rect x="284.1" y="235.2" width="3.6" height="3.6" fill="#5ccc5c" opacity=".3"/><rect x="285" y="236.1" width="1.8" height="1.8" fill="#347a3e"/>
<rect x="288.2" y="235.2" width="3.6" height="3.6" fill="#5ccc5c" opacity=".3"/><rect x="289.1" y="236.1" width="1.8" height="1.8" fill="#347a3e"/>
<rect x="278.3" y="238.8" width="3.6" height="3.6" fill="#5ccc5c" opacity=".3"/><rect x="279.2" y="239.7" width="1.8" height="1.8" fill="#347a3e"/>
<rect x="286" y="238.3" width="3.6" height="3.6" fill="#5ccc5c" opacity=".3"/><rect x="286.9" y="239.2" width="1.8" height="1.8" fill="#347a3e"/>
<rect x="278.3" y="241.4" width="3.6" height="3.6" fill="#5ccc5c" opacity=".3"/><rect x="279.2" y="242.3" width="1.8" height="1.8" fill="#347a3e"/>
<rect x="286" y="241" width="3.6" height="3.6" fill="#5ccc5c" opacity=".3"/><rect x="286.9" y="241.9" width="1.8" height="1.8" fill="#347a3e"/>
<rect x="289.9" y="240" width="3.6" height="3.6" fill="#5ccc5c" opacity=".3"/><rect x="290.8" y="240.9" width="1.8" height="1.8" fill="#347a3e"/>
<rect x="312.1" y="240.3" width="3.6" height="3.6" fill="#8aa4d8" opacity=".3"/><path d="M313.9 240.7L315.2 243.1L312.6 243.1Z" fill="#2c3850"/>
<rect x="315.9" y="242.4" width="3.6" height="3.6" fill="#8aa4d8" opacity=".3"/><path d="M317.7 242.8L319 245.2L316.4 245.2Z" fill="#2c3850"/>
<rect x="319.8" y="241.9" width="3.6" height="3.6" fill="#8aa4d8" opacity=".3"/><path d="M321.6 242.3L322.9 244.7L320.3 244.7Z" fill="#2c3850"/>
<line x1="285.8" y1="171.5" x2="318.5" y2="171.5" stroke="#6a6a6a" stroke-width="1.0"/>
<circle cx="299.35" cy="167.5" r="0.95" fill="#222"/>
<circle cx="302.15" cy="167.5" r="0.95" fill="#222"/>
<circle cx="304.95" cy="167.5" r="0.95" fill="#222"/>
<text x="458" y="157.3" font-size="9.0" text-anchor="middle">CD4 cell count d+365</text>
<line x1="404.5" y1="168.6" x2="404.5" y2="205.1" stroke="#1a1a1a" stroke-width="1.5"/>
<line x1="404.5" y1="208.8" x2="404.5" y2="247" stroke="#1a1a1a" stroke-width="1.5"/>
<path d="M403.35 204.3L405.6 206.45" stroke="#111" stroke-width="1.25" fill="none"/>
<path d="M403.35 207.4L405.6 209.55" stroke="#111" stroke-width="1.25" fill="none"/>
<line x1="401.2" y1="171" x2="404.5" y2="171" stroke="#231f20" stroke-width="1.0"/>
<text x="397.6" y="173.4" font-size="6.8" text-anchor="end" textLength="15.8" lengthAdjust="spacingAndGlyphs" class="tk">3000</text>
<line x1="401.2" y1="182.5" x2="404.5" y2="182.5" stroke="#231f20" stroke-width="1.0"/>
<text x="397.6" y="184.9" font-size="6.8" text-anchor="end" textLength="15.8" lengthAdjust="spacingAndGlyphs" class="tk">2000</text>
<line x1="401.2" y1="194.1" x2="404.5" y2="194.1" stroke="#231f20" stroke-width="1.0"/>
<text x="397.6" y="196.5" font-size="6.8" text-anchor="end" textLength="15.8" lengthAdjust="spacingAndGlyphs" class="tk">1000</text>
<text x="397.6" y="211.3" font-size="6.8" text-anchor="end" textLength="7.9" lengthAdjust="spacingAndGlyphs" class="tk">40</text>
<line x1="401.2" y1="227.5" x2="404.5" y2="227.5" stroke="#231f20" stroke-width="1.0"/>
<text x="397.6" y="229.9" font-size="6.8" text-anchor="end" textLength="7.9" lengthAdjust="spacingAndGlyphs" class="tk">20</text>
<line x1="401.2" y1="246.2" x2="404.5" y2="246.2" stroke="#231f20" stroke-width="1.0"/>
<text x="397.6" y="248.6" font-size="6.8" text-anchor="end" textLength="3.95" lengthAdjust="spacingAndGlyphs" class="tk">0</text>
<line x1="403.75" y1="246.3" x2="512.5" y2="246.3" stroke="#1a1a1a" stroke-width="1.4"/>
<line x1="426" y1="246.3" x2="426" y2="249.5" stroke="#231f20" stroke-width="1.0"/>
<text x="426.2" y="258.9" font-size="6.8" text-anchor="middle" textLength="7.9" lengthAdjust="spacingAndGlyphs" class="tk">15</text>
<line x1="458.3" y1="246.3" x2="458.3" y2="249.5" stroke="#231f20" stroke-width="1.0"/>
<text x="458.5" y="258.9" font-size="6.8" text-anchor="middle" textLength="7.9" lengthAdjust="spacingAndGlyphs" class="tk">30</text>
<line x1="490.8" y1="246.3" x2="490.8" y2="249.5" stroke="#231f20" stroke-width="1.0"/>
<text x="491" y="258.9" font-size="6.8" text-anchor="middle" textLength="7.9" lengthAdjust="spacingAndGlyphs" class="tk">60</text>
<text transform="translate(458.2,271.7) scale(0.545,1)" font-size="9.2" font-weight="bold" stroke="#231f20" stroke-width="0.1" text-anchor="middle" textLength="73.76" lengthAdjust="spacing">ATLG [mg/kg]</text>
<text transform="translate(375.5,207.55) rotate(-90) scale(0.68,1)" font-size="9.5" font-weight="bold" stroke="#231f20" stroke-width="0.18" text-anchor="middle" textLength="57.5" lengthAdjust="spacing">CD4<tspan font-size="6.2" dy="-2.9">+</tspan><tspan dy="2.9"> cells/µl</tspan></text>
<line x1="415.2" y1="200.9" x2="436.5" y2="200.9" stroke="#3a2830" stroke-width="1.0"/>
<line x1="447.5" y1="201.6" x2="468.5" y2="201.6" stroke="#2e4a32" stroke-width="1.0"/>
<line x1="479.8" y1="204.3" x2="500.8" y2="204.3" stroke="#333846" stroke-width="1.0"/>
<circle cx="423.5" cy="200.5" r="1.7" fill="#e87896" opacity=".3"/><circle cx="423.5" cy="200.5" r="1.0" fill="#6e1a34"/>
<circle cx="427.9" cy="200.5" r="1.7" fill="#e87896" opacity=".3"/><circle cx="427.9" cy="200.5" r="1.0" fill="#6e1a34"/>
<circle cx="425.8" cy="204.4" r="1.7" fill="#e87896" opacity=".3"/><circle cx="425.8" cy="204.4" r="1.0" fill="#6e1a34"/>
<rect x="447.7" y="194.3" width="3.6" height="3.6" fill="#5ccc5c" opacity=".3"/><rect x="448.6" y="195.2" width="1.8" height="1.8" fill="#347a3e"/>
<rect x="447.7" y="196.2" width="3.6" height="3.6" fill="#5ccc5c" opacity=".3"/><rect x="448.6" y="197.1" width="1.8" height="1.8" fill="#347a3e"/>
<rect x="452" y="194.5" width="3.6" height="3.6" fill="#5ccc5c" opacity=".3"/><rect x="452.9" y="195.4" width="1.8" height="1.8" fill="#347a3e"/>
<rect x="459.8" y="196.4" width="3.6" height="3.6" fill="#5ccc5c" opacity=".3"/><rect x="460.7" y="197.3" width="1.8" height="1.8" fill="#347a3e"/>
<rect x="463.9" y="195.4" width="3.6" height="3.6" fill="#5ccc5c" opacity=".3"/><rect x="464.8" y="196.3" width="1.8" height="1.8" fill="#347a3e"/>
<rect x="451.7" y="199" width="3.6" height="3.6" fill="#5ccc5c" opacity=".3"/><rect x="452.6" y="199.9" width="1.8" height="1.8" fill="#347a3e"/>
<rect x="455.8" y="200.6" width="3.6" height="3.6" fill="#5ccc5c" opacity=".3"/><rect x="456.7" y="201.5" width="1.8" height="1.8" fill="#347a3e"/>
<rect x="459.8" y="200.6" width="3.6" height="3.6" fill="#5ccc5c" opacity=".3"/><rect x="460.7" y="201.5" width="1.8" height="1.8" fill="#347a3e"/>
<rect x="453.8" y="203.3" width="3.6" height="3.6" fill="#5ccc5c" opacity=".3"/><rect x="454.7" y="204.2" width="1.8" height="1.8" fill="#347a3e"/>
<rect x="457.9" y="203.3" width="3.6" height="3.6" fill="#5ccc5c" opacity=".3"/><rect x="458.8" y="204.2" width="1.8" height="1.8" fill="#347a3e"/>
<rect x="456.1" y="213.9" width="3.6" height="3.6" fill="#5ccc5c" opacity=".3"/><rect x="457" y="214.8" width="1.8" height="1.8" fill="#347a3e"/>
<rect x="456.1" y="244.2" width="3.6" height="3.6" fill="#5ccc5c" opacity=".3"/><rect x="457" y="245.1" width="1.8" height="1.8" fill="#347a3e"/>
<rect x="484.2" y="199.9" width="3.6" height="3.6" fill="#8aa4d8" opacity=".3"/><path d="M486 200.3L487.3 202.7L484.7 202.7Z" fill="#2c3850"/>
<rect x="484.2" y="204.2" width="3.6" height="3.6" fill="#8aa4d8" opacity=".3"/><path d="M486 204.6L487.3 207L484.7 207Z" fill="#2c3850"/>
<rect x="488.1" y="203" width="3.6" height="3.6" fill="#8aa4d8" opacity=".3"/><path d="M489.9 203.4L491.2 205.8L488.6 205.8Z" fill="#2c3850"/>
<rect x="491.8" y="201.9" width="3.6" height="3.6" fill="#8aa4d8" opacity=".3"/><path d="M493.6 202.3L494.9 204.7L492.3 204.7Z" fill="#2c3850"/>
<rect x="491.8" y="203.7" width="3.6" height="3.6" fill="#8aa4d8" opacity=".3"/><path d="M493.6 204.1L494.9 206.5L492.3 206.5Z" fill="#2c3850"/>
<text x="7.8" y="293.9" font-size="12.4" text-anchor="start" font-weight="bold" fill="#000" stroke="#000" stroke-width="0.35">C</text>
<text x="115.2" y="295.3" font-size="9.0" text-anchor="middle">CD8 cell count d+30</text>
<line x1="62" y1="306.6" x2="62" y2="343.1" stroke="#1a1a1a" stroke-width="1.5"/>
<line x1="62" y1="346.8" x2="62" y2="385" stroke="#1a1a1a" stroke-width="1.5"/>
<path d="M60.85 342.3L63.1 344.45" stroke="#111" stroke-width="1.25" fill="none"/>
<path d="M60.85 345.4L63.1 347.55" stroke="#111" stroke-width="1.25" fill="none"/>
<line x1="58.7" y1="309" x2="62" y2="309" stroke="#231f20" stroke-width="1.0"/>
<text x="55.1" y="311.4" font-size="6.8" text-anchor="end" textLength="15.8" lengthAdjust="spacingAndGlyphs" class="tk">3000</text>
<line x1="58.7" y1="320.5" x2="62" y2="320.5" stroke="#231f20" stroke-width="1.0"/>
<text x="55.1" y="322.9" font-size="6.8" text-anchor="end" textLength="15.8" lengthAdjust="spacingAndGlyphs" class="tk">2000</text>
<line x1="58.7" y1="332.1" x2="62" y2="332.1" stroke="#231f20" stroke-width="1.0"/>
<text x="55.1" y="334.5" font-size="6.8" text-anchor="end" textLength="15.8" lengthAdjust="spacingAndGlyphs" class="tk">1000</text>
<text x="55.1" y="349.3" font-size="6.8" text-anchor="end" textLength="7.9" lengthAdjust="spacingAndGlyphs" class="tk">40</text>
<line x1="58.7" y1="365.5" x2="62" y2="365.5" stroke="#231f20" stroke-width="1.0"/>
<text x="55.1" y="367.9" font-size="6.8" text-anchor="end" textLength="7.9" lengthAdjust="spacingAndGlyphs" class="tk">20</text>
<line x1="58.7" y1="384.2" x2="62" y2="384.2" stroke="#231f20" stroke-width="1.0"/>
<text x="55.1" y="386.6" font-size="6.8" text-anchor="end" textLength="3.95" lengthAdjust="spacingAndGlyphs" class="tk">0</text>
<line x1="61.25" y1="384.3" x2="169.4" y2="384.3" stroke="#1a1a1a" stroke-width="1.4"/>
<line x1="83.4" y1="384.3" x2="83.4" y2="387.5" stroke="#231f20" stroke-width="1.0"/>
<text x="83.6" y="396.9" font-size="6.8" text-anchor="middle" textLength="7.9" lengthAdjust="spacingAndGlyphs" class="tk">15</text>
<line x1="115.3" y1="384.3" x2="115.3" y2="387.5" stroke="#231f20" stroke-width="1.0"/>
<text x="115.5" y="396.9" font-size="6.8" text-anchor="middle" textLength="7.9" lengthAdjust="spacingAndGlyphs" class="tk">30</text>
<line x1="147.4" y1="384.3" x2="147.4" y2="387.5" stroke="#231f20" stroke-width="1.0"/>
<text x="147.6" y="396.9" font-size="6.8" text-anchor="middle" textLength="7.9" lengthAdjust="spacingAndGlyphs" class="tk">60</text>
<text transform="translate(115.4,409.7) scale(0.545,1)" font-size="9.2" font-weight="bold" stroke="#231f20" stroke-width="0.1" text-anchor="middle" textLength="73.76" lengthAdjust="spacing">ATLG [mg/kg]</text>
<text transform="translate(33,345.55) rotate(-90) scale(0.68,1)" font-size="9.5" font-weight="bold" stroke="#231f20" stroke-width="0.18" text-anchor="middle" textLength="57.5" lengthAdjust="spacing">CD8<tspan font-size="6.2" dy="-2.9">+</tspan><tspan dy="2.9"> cells/µl</tspan></text>
<rect x="104.9" y="380.6" width="20.5" height="3.4" fill="#a8e8a8" stroke="#24402a" stroke-width="0.7"/>
<rect x="106" y="381.2" width="2.4" height="2.4" fill="#e4f8e4" stroke="#3a6a3e" stroke-width="0.5"/>
<rect x="110.2" y="381.3" width="2.4" height="2.4" fill="#e4f8e4" stroke="#3a6a3e" stroke-width="0.5"/>
<rect x="114.4" y="381.2" width="2.4" height="2.4" fill="#e4f8e4" stroke="#3a6a3e" stroke-width="0.5"/>
<rect x="118.6" y="381.3" width="2.4" height="2.4" fill="#e4f8e4" stroke="#3a6a3e" stroke-width="0.5"/>
<rect x="122.2" y="381.2" width="2.4" height="2.4" fill="#e4f8e4" stroke="#3a6a3e" stroke-width="0.5"/>
<line x1="72.4" y1="353.4" x2="94.2" y2="353.4" stroke="#3a2830" stroke-width="1.0"/>
<line x1="104.9" y1="380.1" x2="125.4" y2="380.1" stroke="#2e4a32" stroke-width="1.0"/>
<line x1="136.9" y1="383.6" x2="157.8" y2="383.6" stroke="#333846" stroke-width="1.0"/>
<circle cx="81.3" cy="343" r="1.7" fill="#e87896" opacity=".3"/><circle cx="81.3" cy="343" r="1.0" fill="#6e1a34"/>
<circle cx="85.2" cy="343.8" r="1.7" fill="#e87896" opacity=".3"/><circle cx="85.2" cy="343.8" r="1.0" fill="#6e1a34"/>
<circle cx="83.3" cy="353.4" r="1.7" fill="#e87896" opacity=".3"/><circle cx="83.3" cy="353.4" r="1.0" fill="#6e1a34"/>
<circle cx="83.3" cy="378" r="1.7" fill="#e87896" opacity=".3"/><circle cx="83.3" cy="378" r="1.0" fill="#6e1a34"/>
<circle cx="83.3" cy="380.8" r="1.7" fill="#e87896" opacity=".3"/><circle cx="83.3" cy="380.8" r="1.0" fill="#6e1a34"/>
<rect x="113.2" y="328.8" width="3.6" height="3.6" fill="#5ccc5c" opacity=".3"/><rect x="114.1" y="329.7" width="1.8" height="1.8" fill="#347a3e"/>
<rect x="113.2" y="341.8" width="3.6" height="3.6" fill="#5ccc5c" opacity=".3"/><rect x="114.1" y="342.7" width="1.8" height="1.8" fill="#347a3e"/>
<rect x="115.9" y="340.6" width="3.6" height="3.6" fill="#5ccc5c" opacity=".3"/><rect x="116.8" y="341.5" width="1.8" height="1.8" fill="#347a3e"/>
<rect x="113.2" y="357.6" width="3.6" height="3.6" fill="#5ccc5c" opacity=".3"/><rect x="114.1" y="358.5" width="1.8" height="1.8" fill="#347a3e"/>
<rect x="113.3" y="371.6" width="3.6" height="3.6" fill="#5ccc5c" opacity=".3"/><rect x="114.2" y="372.5" width="1.8" height="1.8" fill="#347a3e"/>
<rect x="108.5" y="376" width="3.6" height="3.6" fill="#5ccc5c" opacity=".3"/><rect x="109.4" y="376.9" width="1.8" height="1.8" fill="#347a3e"/>
<rect x="115.5" y="374.9" width="3.6" height="3.6" fill="#5ccc5c" opacity=".3"/><rect x="116.4" y="375.8" width="1.8" height="1.8" fill="#347a3e"/>
<rect x="118.4" y="374.9" width="3.6" height="3.6" fill="#5ccc5c" opacity=".3"/><rect x="119.3" y="375.8" width="1.8" height="1.8" fill="#347a3e"/>
<rect x="113.3" y="376.6" width="3.6" height="3.6" fill="#5ccc5c" opacity=".3"/><rect x="114.2" y="377.5" width="1.8" height="1.8" fill="#347a3e"/>
<rect x="115.5" y="377.7" width="3.6" height="3.6" fill="#5ccc5c" opacity=".3"/><rect x="116.4" y="378.6" width="1.8" height="1.8" fill="#347a3e"/>
<rect x="118.4" y="377.7" width="3.6" height="3.6" fill="#5ccc5c" opacity=".3"/><rect x="119.3" y="378.6" width="1.8" height="1.8" fill="#347a3e"/>
<rect x="145.6" y="377.7" width="3.6" height="3.6" fill="#8aa4d8" opacity=".3"/><path d="M147.4 378.1L148.7 380.5L146.1 380.5Z" fill="#2c3850"/>
<rect x="139.1" y="381.5" width="3.6" height="3.6" fill="#8aa4d8" opacity=".3"/><path d="M140.9 381.9L142.2 384.3L139.6 384.3Z" fill="#2c3850"/>
<rect x="145.1" y="381.7" width="3.6" height="3.6" fill="#8aa4d8" opacity=".3"/><path d="M146.9 382.1L148.2 384.5L145.6 384.5Z" fill="#2c3850"/>
<line x1="82.8" y1="309.5" x2="147.2" y2="309.5" stroke="#6a6a6a" stroke-width="1.0"/>
<circle cx="113.6" cy="305.5" r="0.95" fill="#222"/>
<circle cx="116.4" cy="305.5" r="0.95" fill="#222"/>
<line x1="115.4" y1="320.5" x2="147.2" y2="320.5" stroke="#6a6a6a" stroke-width="1.0"/>
<circle cx="131.3" cy="316.5" r="0.95" fill="#222"/>
<text x="286.5" y="295.3" font-size="9.0" text-anchor="middle">CD8 cell count d+90</text>
<line x1="232.7" y1="306.6" x2="232.7" y2="343.1" stroke="#1a1a1a" stroke-width="1.5"/>
<line x1="232.7" y1="346.8" x2="232.7" y2="385" stroke="#1a1a1a" stroke-width="1.5"/>
<path d="M231.55 342.3L233.8 344.45" stroke="#111" stroke-width="1.25" fill="none"/>
<path d="M231.55 345.4L233.8 347.55" stroke="#111" stroke-width="1.25" fill="none"/>
<line x1="229.4" y1="309" x2="232.7" y2="309" stroke="#231f20" stroke-width="1.0"/>
<text x="225.8" y="311.4" font-size="6.8" text-anchor="end" textLength="15.8" lengthAdjust="spacingAndGlyphs" class="tk">3000</text>
<line x1="229.4" y1="320.5" x2="232.7" y2="320.5" stroke="#231f20" stroke-width="1.0"/>
<text x="225.8" y="322.9" font-size="6.8" text-anchor="end" textLength="15.8" lengthAdjust="spacingAndGlyphs" class="tk">2000</text>
<line x1="229.4" y1="332.1" x2="232.7" y2="332.1" stroke="#231f20" stroke-width="1.0"/>
<text x="225.8" y="334.5" font-size="6.8" text-anchor="end" textLength="15.8" lengthAdjust="spacingAndGlyphs" class="tk">1000</text>
<text x="225.8" y="349.3" font-size="6.8" text-anchor="end" textLength="7.9" lengthAdjust="spacingAndGlyphs" class="tk">40</text>
<line x1="229.4" y1="365.5" x2="232.7" y2="365.5" stroke="#231f20" stroke-width="1.0"/>
<text x="225.8" y="367.9" font-size="6.8" text-anchor="end" textLength="7.9" lengthAdjust="spacingAndGlyphs" class="tk">20</text>
<line x1="229.4" y1="384.2" x2="232.7" y2="384.2" stroke="#231f20" stroke-width="1.0"/>
<text x="225.8" y="386.6" font-size="6.8" text-anchor="end" textLength="3.95" lengthAdjust="spacingAndGlyphs" class="tk">0</text>
<line x1="231.95" y1="384.3" x2="341.3" y2="384.3" stroke="#1a1a1a" stroke-width="1.4"/>
<line x1="254.3" y1="384.3" x2="254.3" y2="387.5" stroke="#231f20" stroke-width="1.0"/>
<text x="254.5" y="396.9" font-size="6.8" text-anchor="middle" textLength="7.9" lengthAdjust="spacingAndGlyphs" class="tk">15</text>
<line x1="286.3" y1="384.3" x2="286.3" y2="387.5" stroke="#231f20" stroke-width="1.0"/>
<text x="286.5" y="396.9" font-size="6.8" text-anchor="middle" textLength="7.9" lengthAdjust="spacingAndGlyphs" class="tk">30</text>
<line x1="319" y1="384.3" x2="319" y2="387.5" stroke="#231f20" stroke-width="1.0"/>
<text x="319.2" y="396.9" font-size="6.8" text-anchor="middle" textLength="7.9" lengthAdjust="spacingAndGlyphs" class="tk">60</text>
<text transform="translate(286.7,409.7) scale(0.545,1)" font-size="9.2" font-weight="bold" stroke="#231f20" stroke-width="0.1" text-anchor="middle" textLength="73.76" lengthAdjust="spacing">ATLG [mg/kg]</text>
<text transform="translate(203.7,345.55) rotate(-90) scale(0.68,1)" font-size="9.5" font-weight="bold" stroke="#231f20" stroke-width="0.18" text-anchor="middle" textLength="57.5" lengthAdjust="spacing">CD8<tspan font-size="6.2" dy="-2.9">+</tspan><tspan dy="2.9"> cells/µl</tspan></text>
<line x1="243.5" y1="357.7" x2="264.2" y2="357.7" stroke="#3a2830" stroke-width="1.0"/>
<line x1="275.2" y1="373.3" x2="296.2" y2="373.3" stroke="#2e4a32" stroke-width="1.0"/>
<line x1="307.5" y1="383.6" x2="328" y2="383.6" stroke="#333846" stroke-width="1.0"/>
<circle cx="253.8" cy="357" r="1.7" fill="#e87896" opacity=".3"/><circle cx="253.8" cy="357" r="1.0" fill="#6e1a34"/>
<circle cx="253.8" cy="358.4" r="1.7" fill="#e87896" opacity=".3"/><circle cx="253.8" cy="358.4" r="1.0" fill="#6e1a34"/>
<rect x="284" y="335.4" width="3.6" height="3.6" fill="#5ccc5c" opacity=".3"/><rect x="284.9" y="336.3" width="1.8" height="1.8" fill="#347a3e"/>
<rect x="274.2" y="341.5" width="3.6" height="3.6" fill="#5ccc5c" opacity=".3"/><rect x="275.1" y="342.4" width="1.8" height="1.8" fill="#347a3e"/>
<rect x="276.8" y="341.5" width="3.6" height="3.6" fill="#5ccc5c" opacity=".3"/><rect x="277.7" y="342.4" width="1.8" height="1.8" fill="#347a3e"/>
<rect x="279.5" y="341.5" width="3.6" height="3.6" fill="#5ccc5c" opacity=".3"/><rect x="280.4" y="342.4" width="1.8" height="1.8" fill="#347a3e"/>
<rect x="282.6" y="341.5" width="3.6" height="3.6" fill="#5ccc5c" opacity=".3"/><rect x="283.5" y="342.4" width="1.8" height="1.8" fill="#347a3e"/>
<rect x="285.5" y="341.5" width="3.6" height="3.6" fill="#5ccc5c" opacity=".3"/><rect x="286.4" y="342.4" width="1.8" height="1.8" fill="#347a3e"/>
<rect x="288" y="340" width="3.6" height="3.6" fill="#5ccc5c" opacity=".3"/><rect x="288.9" y="340.9" width="1.8" height="1.8" fill="#347a3e"/>
<rect x="291" y="341.5" width="3.6" height="3.6" fill="#5ccc5c" opacity=".3"/><rect x="291.9" y="342.4" width="1.8" height="1.8" fill="#347a3e"/>
<rect x="293.8" y="341.5" width="3.6" height="3.6" fill="#5ccc5c" opacity=".3"/><rect x="294.7" y="342.4" width="1.8" height="1.8" fill="#347a3e"/>
<rect x="284" y="351.9" width="3.6" height="3.6" fill="#5ccc5c" opacity=".3"/><rect x="284.9" y="352.8" width="1.8" height="1.8" fill="#347a3e"/>
<rect x="285.5" y="370.6" width="3.6" height="3.6" fill="#5ccc5c" opacity=".3"/><rect x="286.4" y="371.5" width="1.8" height="1.8" fill="#347a3e"/>
<rect x="288" y="372.3" width="3.6" height="3.6" fill="#5ccc5c" opacity=".3"/><rect x="288.9" y="373.2" width="1.8" height="1.8" fill="#347a3e"/>
<rect x="285.5" y="373.6" width="3.6" height="3.6" fill="#5ccc5c" opacity=".3"/><rect x="286.4" y="374.5" width="1.8" height="1.8" fill="#347a3e"/>
<rect x="282.7" y="374.3" width="3.6" height="3.6" fill="#5ccc5c" opacity=".3"/><rect x="283.6" y="375.2" width="1.8" height="1.8" fill="#347a3e"/>
<rect x="279.8" y="375.9" width="3.6" height="3.6" fill="#5ccc5c" opacity=".3"/><rect x="280.7" y="376.8" width="1.8" height="1.8" fill="#347a3e"/>
<rect x="285.5" y="377.1" width="3.6" height="3.6" fill="#5ccc5c" opacity=".3"/><rect x="286.4" y="378" width="1.8" height="1.8" fill="#347a3e"/>
<rect x="288.4" y="377.1" width="3.6" height="3.6" fill="#5ccc5c" opacity=".3"/><rect x="289.3" y="378" width="1.8" height="1.8" fill="#347a3e"/>
<rect x="282.7" y="378.7" width="3.6" height="3.6" fill="#5ccc5c" opacity=".3"/><rect x="283.6" y="379.6" width="1.8" height="1.8" fill="#347a3e"/>
<rect x="279.8" y="379.3" width="3.6" height="3.6" fill="#5ccc5c" opacity=".3"/><rect x="280.7" y="380.2" width="1.8" height="1.8" fill="#347a3e"/>
<rect x="285.5" y="380.6" width="3.6" height="3.6" fill="#5ccc5c" opacity=".3"/><rect x="286.4" y="381.5" width="1.8" height="1.8" fill="#347a3e"/>
<rect x="288.4" y="380.1" width="3.6" height="3.6" fill="#5ccc5c" opacity=".3"/><rect x="289.3" y="381" width="1.8" height="1.8" fill="#347a3e"/>
<rect x="279.8" y="381.1" width="3.6" height="3.6" fill="#5ccc5c" opacity=".3"/><rect x="280.7" y="382" width="1.8" height="1.8" fill="#347a3e"/>
<rect x="309" y="380.6" width="3.6" height="3.6" fill="#8aa4d8" opacity=".3"/><path d="M310.8 381L312.1 383.4L309.5 383.4Z" fill="#2c3850"/>
<rect x="314.6" y="380.6" width="3.6" height="3.6" fill="#8aa4d8" opacity=".3"/><path d="M316.4 381L317.7 383.4L315.1 383.4Z" fill="#2c3850"/>
<line x1="285.8" y1="309.5" x2="318.5" y2="309.5" stroke="#6a6a6a" stroke-width="1.0"/>
<circle cx="299.35" cy="305.5" r="0.95" fill="#222"/>
<circle cx="302.15" cy="305.5" r="0.95" fill="#222"/>
<circle cx="304.95" cy="305.5" r="0.95" fill="#222"/>
<text x="458" y="295.3" font-size="9.0" text-anchor="middle">CD8 cell count d+365</text>
<line x1="404.5" y1="306.6" x2="404.5" y2="343.1" stroke="#1a1a1a" stroke-width="1.5"/>
<line x1="404.5" y1="346.8" x2="404.5" y2="385" stroke="#1a1a1a" stroke-width="1.5"/>
<path d="M403.35 342.3L405.6 344.45" stroke="#111" stroke-width="1.25" fill="none"/>
<path d="M403.35 345.4L405.6 347.55" stroke="#111" stroke-width="1.25" fill="none"/>
<line x1="401.2" y1="309" x2="404.5" y2="309" stroke="#231f20" stroke-width="1.0"/>
<text x="397.6" y="311.4" font-size="6.8" text-anchor="end" textLength="15.8" lengthAdjust="spacingAndGlyphs" class="tk">3000</text>
<line x1="401.2" y1="320.5" x2="404.5" y2="320.5" stroke="#231f20" stroke-width="1.0"/>
<text x="397.6" y="322.9" font-size="6.8" text-anchor="end" textLength="15.8" lengthAdjust="spacingAndGlyphs" class="tk">2000</text>
<line x1="401.2" y1="332.1" x2="404.5" y2="332.1" stroke="#231f20" stroke-width="1.0"/>
<text x="397.6" y="334.5" font-size="6.8" text-anchor="end" textLength="15.8" lengthAdjust="spacingAndGlyphs" class="tk">1000</text>
<text x="397.6" y="349.3" font-size="6.8" text-anchor="end" textLength="7.9" lengthAdjust="spacingAndGlyphs" class="tk">40</text>
<line x1="401.2" y1="365.5" x2="404.5" y2="365.5" stroke="#231f20" stroke-width="1.0"/>
<text x="397.6" y="367.9" font-size="6.8" text-anchor="end" textLength="7.9" lengthAdjust="spacingAndGlyphs" class="tk">20</text>
<line x1="401.2" y1="384.2" x2="404.5" y2="384.2" stroke="#231f20" stroke-width="1.0"/>
<text x="397.6" y="386.6" font-size="6.8" text-anchor="end" textLength="3.95" lengthAdjust="spacingAndGlyphs" class="tk">0</text>
<line x1="403.75" y1="384.3" x2="512.5" y2="384.3" stroke="#1a1a1a" stroke-width="1.4"/>
<line x1="426" y1="384.3" x2="426" y2="387.5" stroke="#231f20" stroke-width="1.0"/>
<text x="426.2" y="396.9" font-size="6.8" text-anchor="middle" textLength="7.9" lengthAdjust="spacingAndGlyphs" class="tk">15</text>
<line x1="458.3" y1="384.3" x2="458.3" y2="387.5" stroke="#231f20" stroke-width="1.0"/>
<text x="458.5" y="396.9" font-size="6.8" text-anchor="middle" textLength="7.9" lengthAdjust="spacingAndGlyphs" class="tk">30</text>
<line x1="490.8" y1="384.3" x2="490.8" y2="387.5" stroke="#231f20" stroke-width="1.0"/>
<text x="491" y="396.9" font-size="6.8" text-anchor="middle" textLength="7.9" lengthAdjust="spacingAndGlyphs" class="tk">60</text>
<text transform="translate(458.2,409.7) scale(0.545,1)" font-size="9.2" font-weight="bold" stroke="#231f20" stroke-width="0.1" text-anchor="middle" textLength="73.76" lengthAdjust="spacing">ATLG [mg/kg]</text>
<text transform="translate(375.5,345.55) rotate(-90) scale(0.68,1)" font-size="9.5" font-weight="bold" stroke="#231f20" stroke-width="0.18" text-anchor="middle" textLength="57.5" lengthAdjust="spacing">CD8<tspan font-size="6.2" dy="-2.9">+</tspan><tspan dy="2.9"> cells/µl</tspan></text>
<line x1="415.2" y1="341.7" x2="436.5" y2="341.7" stroke="#3a2830" stroke-width="1.0"/>
<line x1="447.2" y1="341.7" x2="468.5" y2="341.7" stroke="#2e4a32" stroke-width="1.0"/>
<line x1="479.5" y1="343.5" x2="500.9" y2="343.5" stroke="#333846" stroke-width="1.0"/>
<circle cx="425.8" cy="338.6" r="1.7" fill="#e87896" opacity=".3"/><circle cx="425.8" cy="338.6" r="1.0" fill="#6e1a34"/>
<circle cx="423.5" cy="342.4" r="1.7" fill="#e87896" opacity=".3"/><circle cx="423.5" cy="342.4" r="1.0" fill="#6e1a34"/>
<circle cx="428.2" cy="341.7" r="1.7" fill="#e87896" opacity=".3"/><circle cx="428.2" cy="341.7" r="1.0" fill="#6e1a34"/>
<rect x="456.1" y="316.9" width="3.6" height="3.6" fill="#5ccc5c" opacity=".3"/><rect x="457" y="317.8" width="1.8" height="1.8" fill="#347a3e"/>
<rect x="447.1" y="339.7" width="3.6" height="3.6" fill="#5ccc5c" opacity=".3"/><rect x="448" y="340.6" width="1.8" height="1.8" fill="#347a3e"/>
<rect x="450" y="339" width="3.6" height="3.6" fill="#5ccc5c" opacity=".3"/><rect x="450.9" y="339.9" width="1.8" height="1.8" fill="#347a3e"/>
<rect x="453.8" y="341" width="3.6" height="3.6" fill="#5ccc5c" opacity=".3"/><rect x="454.7" y="341.9" width="1.8" height="1.8" fill="#347a3e"/>
<rect x="457.7" y="337.6" width="3.6" height="3.6" fill="#5ccc5c" opacity=".3"/><rect x="458.6" y="338.5" width="1.8" height="1.8" fill="#347a3e"/>
<rect x="461.9" y="335.9" width="3.6" height="3.6" fill="#5ccc5c" opacity=".3"/><rect x="462.8" y="336.8" width="1.8" height="1.8" fill="#347a3e"/>
<rect x="461.9" y="339.7" width="3.6" height="3.6" fill="#5ccc5c" opacity=".3"/><rect x="462.8" y="340.6" width="1.8" height="1.8" fill="#347a3e"/>
<rect x="465.6" y="339.9" width="3.6" height="3.6" fill="#5ccc5c" opacity=".3"/><rect x="466.5" y="340.8" width="1.8" height="1.8" fill="#347a3e"/>
<rect x="457.7" y="340" width="3.6" height="3.6" fill="#5ccc5c" opacity=".3"/><rect x="458.6" y="340.9" width="1.8" height="1.8" fill="#347a3e"/>
<rect x="456.1" y="354.4" width="3.6" height="3.6" fill="#5ccc5c" opacity=".3"/><rect x="457" y="355.3" width="1.8" height="1.8" fill="#347a3e"/>
<rect x="456.1" y="380.9" width="3.6" height="3.6" fill="#5ccc5c" opacity=".3"/><rect x="457" y="381.8" width="1.8" height="1.8" fill="#347a3e"/>
<rect x="486" y="329" width="3.6" height="3.6" fill="#8aa4d8" opacity=".3"/><path d="M487.8 329.4L489.1 331.8L486.5 331.8Z" fill="#2c3850"/>
<rect x="490" y="329.2" width="3.6" height="3.6" fill="#8aa4d8" opacity=".3"/><path d="M491.8 329.6L493.1 332L490.5 332Z" fill="#2c3850"/>
<rect x="486" y="342.2" width="3.6" height="3.6" fill="#8aa4d8" opacity=".3"/><path d="M487.8 342.6L489.1 345L486.5 345Z" fill="#2c3850"/>
<rect x="490" y="342.2" width="3.6" height="3.6" fill="#8aa4d8" opacity=".3"/><path d="M491.8 342.6L493.1 345L490.5 345Z" fill="#2c3850"/>
<rect x="488.1" y="362.4" width="3.6" height="3.6" fill="#8aa4d8" opacity=".3"/><path d="M489.9 362.8L491.2 365.2L488.6 365.2Z" fill="#2c3850"/>
<text x="7.8" y="431.9" font-size="12.4" text-anchor="start" font-weight="bold" fill="#000" stroke="#000" stroke-width="0.35">D</text>
<text x="115.2" y="433.3" font-size="9.0" text-anchor="middle">CD19 cell count d+30</text>
<line x1="62" y1="442.2" x2="62" y2="488.4" stroke="#1a1a1a" stroke-width="1.5"/>
<line x1="62" y1="492.5" x2="62" y2="523" stroke="#1a1a1a" stroke-width="1.5"/>
<path d="M60.85 487.6L63.1 489.75" stroke="#111" stroke-width="1.25" fill="none"/>
<path d="M60.85 491.1L63.1 493.25" stroke="#111" stroke-width="1.25" fill="none"/>
<line x1="58.7" y1="443.9" x2="62" y2="443.9" stroke="#231f20" stroke-width="1.0"/>
<text x="55.1" y="446.3" font-size="6.8" text-anchor="end" textLength="15.8" lengthAdjust="spacingAndGlyphs" class="tk">1000</text>
<line x1="58.7" y1="453.1" x2="62" y2="453.1" stroke="#231f20" stroke-width="1.0"/>
<text x="55.1" y="455.5" font-size="6.8" text-anchor="end" textLength="11.85" lengthAdjust="spacingAndGlyphs" class="tk">800</text>
<line x1="58.7" y1="462.2" x2="62" y2="462.2" stroke="#231f20" stroke-width="1.0"/>
<text x="55.1" y="464.6" font-size="6.8" text-anchor="end" textLength="11.85" lengthAdjust="spacingAndGlyphs" class="tk">600</text>
<line x1="58.7" y1="471.3" x2="62" y2="471.3" stroke="#231f20" stroke-width="1.0"/>
<text x="55.1" y="473.7" font-size="6.8" text-anchor="end" textLength="11.85" lengthAdjust="spacingAndGlyphs" class="tk">400</text>
<line x1="58.7" y1="480.4" x2="62" y2="480.4" stroke="#231f20" stroke-width="1.0"/>
<text x="55.1" y="482.8" font-size="6.8" text-anchor="end" textLength="11.85" lengthAdjust="spacingAndGlyphs" class="tk">200</text>
<text x="55.1" y="495.2" font-size="6.8" text-anchor="end" textLength="7.9" lengthAdjust="spacingAndGlyphs" class="tk">10</text>
<line x1="58.7" y1="522.2" x2="62" y2="522.2" stroke="#231f20" stroke-width="1.0"/>
<text x="55.1" y="524.6" font-size="6.8" text-anchor="end" textLength="3.95" lengthAdjust="spacingAndGlyphs" class="tk">0</text>
<line x1="61.25" y1="522.3" x2="169.4" y2="522.3" stroke="#1a1a1a" stroke-width="1.4"/>
<line x1="83.4" y1="522.3" x2="83.4" y2="525.5" stroke="#231f20" stroke-width="1.0"/>
<text x="83.6" y="534.9" font-size="6.8" text-anchor="middle" textLength="7.9" lengthAdjust="spacingAndGlyphs" class="tk">15</text>
<line x1="115.3" y1="522.3" x2="115.3" y2="525.5" stroke="#231f20" stroke-width="1.0"/>
<text x="115.5" y="534.9" font-size="6.8" text-anchor="middle" textLength="7.9" lengthAdjust="spacingAndGlyphs" class="tk">30</text>
<line x1="147.4" y1="522.3" x2="147.4" y2="525.5" stroke="#231f20" stroke-width="1.0"/>
<text x="147.6" y="534.9" font-size="6.8" text-anchor="middle" textLength="7.9" lengthAdjust="spacingAndGlyphs" class="tk">60</text>
<text transform="translate(115.4,547.7) scale(0.545,1)" font-size="9.2" font-weight="bold" stroke="#231f20" stroke-width="0.1" text-anchor="middle" textLength="73.76" lengthAdjust="spacing">ATLG [mg/kg]</text>
<text transform="translate(33,483.45) rotate(-90) scale(0.68,1)" font-size="9.5" font-weight="bold" stroke="#231f20" stroke-width="0.18" text-anchor="middle" textLength="63.24" lengthAdjust="spacing">CD19<tspan font-size="6.2" dy="-2.9">+</tspan><tspan dy="2.9"> cells/µl</tspan></text>
<rect x="111.6" y="515.7" width="8.5" height="1.7" fill="#4cc84c"/>
<rect x="111.9" y="515.6" width="1.8" height="1.8" fill="#347a3e"/>
<rect x="117.9" y="515.6" width="1.8" height="1.8" fill="#347a3e"/>
<rect x="105" y="520.4" width="22" height="1.5" fill="#4cc84c"/>
<rect x="107.1" y="520.2" width="1.8" height="1.8" fill="#347a3e"/>
<rect x="112.1" y="520.3" width="1.8" height="1.8" fill="#347a3e"/>
<rect x="118.1" y="520.2" width="1.8" height="1.8" fill="#347a3e"/>
<line x1="73.5" y1="516.2" x2="94.2" y2="516.2" stroke="#3a2830" stroke-width="1.0"/>
<line x1="105.5" y1="519.3" x2="126.5" y2="519.3" stroke="#2e4a32" stroke-width="1.0"/>
<line x1="137.8" y1="519.6" x2="159.1" y2="519.6" stroke="#333846" stroke-width="1.0"/>
<circle cx="83.8" cy="488.3" r="1.7" fill="#e87896" opacity=".3"/><circle cx="83.8" cy="488.3" r="1.0" fill="#6e1a34"/>
<circle cx="83.8" cy="507.7" r="1.7" fill="#e87896" opacity=".3"/><circle cx="83.8" cy="507.7" r="1.0" fill="#6e1a34"/>
<circle cx="81.5" cy="516" r="1.7" fill="#e87896" opacity=".3"/><circle cx="81.5" cy="516" r="1.0" fill="#6e1a34"/>
<circle cx="85.6" cy="517.9" r="1.7" fill="#e87896" opacity=".3"/><circle cx="85.6" cy="517.9" r="1.0" fill="#6e1a34"/>
<rect x="114.3" y="482.1" width="3.6" height="3.6" fill="#5ccc5c" opacity=".3"/><rect x="115.2" y="483" width="1.8" height="1.8" fill="#347a3e"/>
<rect x="115.5" y="485" width="3.6" height="3.6" fill="#5ccc5c" opacity=".3"/><rect x="116.4" y="485.9" width="1.8" height="1.8" fill="#347a3e"/>
<rect x="113.2" y="486.9" width="3.6" height="3.6" fill="#5ccc5c" opacity=".3"/><rect x="114.1" y="487.8" width="1.8" height="1.8" fill="#347a3e"/>
<rect x="113" y="491.2" width="3.6" height="3.6" fill="#5ccc5c" opacity=".3"/><rect x="113.9" y="492.1" width="1.8" height="1.8" fill="#347a3e"/>
<rect x="115.7" y="491.2" width="3.6" height="3.6" fill="#5ccc5c" opacity=".3"/><rect x="116.6" y="492.1" width="1.8" height="1.8" fill="#347a3e"/>
<rect x="112.9" y="505.5" width="3.6" height="3.6" fill="#5ccc5c" opacity=".3"/><rect x="113.8" y="506.4" width="1.8" height="1.8" fill="#347a3e"/>
<rect x="115.2" y="507" width="3.6" height="3.6" fill="#5ccc5c" opacity=".3"/><rect x="116.1" y="507.9" width="1.8" height="1.8" fill="#347a3e"/>
<rect x="124.2" y="517.4" width="3.6" height="3.6" fill="#5ccc5c" opacity=".3"/><rect x="125.1" y="518.3" width="1.8" height="1.8" fill="#347a3e"/>
<rect x="146.7" y="508.4" width="3.6" height="3.6" fill="#8aa4d8" opacity=".3"/><path d="M148.5 508.8L149.8 511.2L147.2 511.2Z" fill="#2c3850"/>
<rect x="144.7" y="512.8" width="3.6" height="3.6" fill="#8aa4d8" opacity=".3"/><path d="M146.5 513.2L147.8 515.6L145.2 515.6Z" fill="#2c3850"/>
<rect x="148.5" y="512.8" width="3.6" height="3.6" fill="#8aa4d8" opacity=".3"/><path d="M150.3 513.2L151.6 515.6L149 515.6Z" fill="#2c3850"/>
<rect x="138.8" y="518.7" width="3.6" height="3.6" fill="#8aa4d8" opacity=".3"/><path d="M140.6 519.1L141.9 521.5L139.3 521.5Z" fill="#2c3850"/>
<rect x="142.8" y="518.7" width="3.6" height="3.6" fill="#8aa4d8" opacity=".3"/><path d="M144.6 519.1L145.9 521.5L143.3 521.5Z" fill="#2c3850"/>
<rect x="146.7" y="518.7" width="3.6" height="3.6" fill="#8aa4d8" opacity=".3"/><path d="M148.5 519.1L149.8 521.5L147.2 521.5Z" fill="#2c3850"/>
<rect x="150.8" y="518.7" width="3.6" height="3.6" fill="#8aa4d8" opacity=".3"/><path d="M152.6 519.1L153.9 521.5L151.3 521.5Z" fill="#2c3850"/>
<rect x="154.8" y="518.7" width="3.6" height="3.6" fill="#8aa4d8" opacity=".3"/><path d="M156.6 519.1L157.9 521.5L155.3 521.5Z" fill="#2c3850"/>
<text x="286.5" y="433.3" font-size="9.0" text-anchor="middle">CD19 cell count d+90</text>
<line x1="232.7" y1="442.2" x2="232.7" y2="488.4" stroke="#1a1a1a" stroke-width="1.5"/>
<line x1="232.7" y1="492.5" x2="232.7" y2="523" stroke="#1a1a1a" stroke-width="1.5"/>
<path d="M231.55 487.6L233.8 489.75" stroke="#111" stroke-width="1.25" fill="none"/>
<path d="M231.55 491.1L233.8 493.25" stroke="#111" stroke-width="1.25" fill="none"/>
<line x1="229.4" y1="443.9" x2="232.7" y2="443.9" stroke="#231f20" stroke-width="1.0"/>
<text x="225.8" y="446.3" font-size="6.8" text-anchor="end" textLength="15.8" lengthAdjust="spacingAndGlyphs" class="tk">1000</text>
<line x1="229.4" y1="453.1" x2="232.7" y2="453.1" stroke="#231f20" stroke-width="1.0"/>
<text x="225.8" y="455.5" font-size="6.8" text-anchor="end" textLength="11.85" lengthAdjust="spacingAndGlyphs" class="tk">800</text>
<line x1="229.4" y1="462.2" x2="232.7" y2="462.2" stroke="#231f20" stroke-width="1.0"/>
<text x="225.8" y="464.6" font-size="6.8" text-anchor="end" textLength="11.85" lengthAdjust="spacingAndGlyphs" class="tk">600</text>
<line x1="229.4" y1="471.3" x2="232.7" y2="471.3" stroke="#231f20" stroke-width="1.0"/>
<text x="225.8" y="473.7" font-size="6.8" text-anchor="end" textLength="11.85" lengthAdjust="spacingAndGlyphs" class="tk">400</text>
<line x1="229.4" y1="480.4" x2="232.7" y2="480.4" stroke="#231f20" stroke-width="1.0"/>
<text x="225.8" y="482.8" font-size="6.8" text-anchor="end" textLength="11.85" lengthAdjust="spacingAndGlyphs" class="tk">200</text>
<text x="225.8" y="495.2" font-size="6.8" text-anchor="end" textLength="7.9" lengthAdjust="spacingAndGlyphs" class="tk">10</text>
<line x1="229.4" y1="522.2" x2="232.7" y2="522.2" stroke="#231f20" stroke-width="1.0"/>
<text x="225.8" y="524.6" font-size="6.8" text-anchor="end" textLength="3.95" lengthAdjust="spacingAndGlyphs" class="tk">0</text>
<line x1="231.95" y1="522.3" x2="341.3" y2="522.3" stroke="#1a1a1a" stroke-width="1.4"/>
<line x1="254.3" y1="522.3" x2="254.3" y2="525.5" stroke="#231f20" stroke-width="1.0"/>
<text x="254.5" y="534.9" font-size="6.8" text-anchor="middle" textLength="7.9" lengthAdjust="spacingAndGlyphs" class="tk">15</text>
<line x1="286.3" y1="522.3" x2="286.3" y2="525.5" stroke="#231f20" stroke-width="1.0"/>
<text x="286.5" y="534.9" font-size="6.8" text-anchor="middle" textLength="7.9" lengthAdjust="spacingAndGlyphs" class="tk">30</text>
<line x1="319" y1="522.3" x2="319" y2="525.5" stroke="#231f20" stroke-width="1.0"/>
<text x="319.2" y="534.9" font-size="6.8" text-anchor="middle" textLength="7.9" lengthAdjust="spacingAndGlyphs" class="tk">60</text>
<text transform="translate(286.7,547.7) scale(0.545,1)" font-size="9.2" font-weight="bold" stroke="#231f20" stroke-width="0.1" text-anchor="middle" textLength="73.76" lengthAdjust="spacing">ATLG [mg/kg]</text>
<text transform="translate(203.7,483.45) rotate(-90) scale(0.68,1)" font-size="9.5" font-weight="bold" stroke="#231f20" stroke-width="0.18" text-anchor="middle" textLength="63.24" lengthAdjust="spacing">CD19<tspan font-size="6.2" dy="-2.9">+</tspan><tspan dy="2.9"> cells/µl</tspan></text>
<line x1="243.7" y1="482.6" x2="264.7" y2="482.6" stroke="#3a2830" stroke-width="1.0"/>
<line x1="276.4" y1="482" x2="297.4" y2="482" stroke="#2e4a32" stroke-width="1.0"/>
<line x1="308.2" y1="484.5" x2="329.8" y2="484.5" stroke="#333846" stroke-width="1.0"/>
<circle cx="254.2" cy="478.9" r="1.7" fill="#e87896" opacity=".3"/><circle cx="254.2" cy="478.9" r="1.0" fill="#6e1a34"/>
<circle cx="254.2" cy="486.3" r="1.7" fill="#e87896" opacity=".3"/><circle cx="254.2" cy="486.3" r="1.0" fill="#6e1a34"/>
<rect x="284.9" y="448.7" width="3.6" height="3.6" fill="#5ccc5c" opacity=".3"/><rect x="285.8" y="449.6" width="1.8" height="1.8" fill="#347a3e"/>
<rect x="284.9" y="466" width="3.6" height="3.6" fill="#5ccc5c" opacity=".3"/><rect x="285.8" y="466.9" width="1.8" height="1.8" fill="#347a3e"/>
<rect x="282.6" y="471.5" width="3.6" height="3.6" fill="#5ccc5c" opacity=".3"/><rect x="283.5" y="472.4" width="1.8" height="1.8" fill="#347a3e"/>
<rect x="287" y="471.5" width="3.6" height="3.6" fill="#5ccc5c" opacity=".3"/><rect x="287.9" y="472.4" width="1.8" height="1.8" fill="#347a3e"/>
<rect x="278.7" y="473.4" width="3.6" height="3.6" fill="#5ccc5c" opacity=".3"/><rect x="279.6" y="474.3" width="1.8" height="1.8" fill="#347a3e"/>
<rect x="278.7" y="475.2" width="3.6" height="3.6" fill="#5ccc5c" opacity=".3"/><rect x="279.6" y="476.1" width="1.8" height="1.8" fill="#347a3e"/>
<rect x="287" y="475.7" width="3.6" height="3.6" fill="#5ccc5c" opacity=".3"/><rect x="287.9" y="476.6" width="1.8" height="1.8" fill="#347a3e"/>
<rect x="290.7" y="475" width="3.6" height="3.6" fill="#5ccc5c" opacity=".3"/><rect x="291.6" y="475.9" width="1.8" height="1.8" fill="#347a3e"/>
<rect x="287" y="473.4" width="3.6" height="3.6" fill="#5ccc5c" opacity=".3"/><rect x="287.9" y="474.3" width="1.8" height="1.8" fill="#347a3e"/>
<rect x="282.6" y="479.2" width="3.6" height="3.6" fill="#5ccc5c" opacity=".3"/><rect x="283.5" y="480.1" width="1.8" height="1.8" fill="#347a3e"/>
<rect x="278.7" y="480.2" width="3.6" height="3.6" fill="#5ccc5c" opacity=".3"/><rect x="279.6" y="481.1" width="1.8" height="1.8" fill="#347a3e"/>
<rect x="291" y="480.8" width="3.6" height="3.6" fill="#5ccc5c" opacity=".3"/><rect x="291.9" y="481.7" width="1.8" height="1.8" fill="#347a3e"/>
<rect x="291" y="482" width="3.6" height="3.6" fill="#5ccc5c" opacity=".3"/><rect x="291.9" y="482.9" width="1.8" height="1.8" fill="#347a3e"/>
<rect x="282.6" y="483.2" width="3.6" height="3.6" fill="#5ccc5c" opacity=".3"/><rect x="283.5" y="484.1" width="1.8" height="1.8" fill="#347a3e"/>
<rect x="287" y="483.9" width="3.6" height="3.6" fill="#5ccc5c" opacity=".3"/><rect x="287.9" y="484.8" width="1.8" height="1.8" fill="#347a3e"/>
<rect x="284.9" y="486.3" width="3.6" height="3.6" fill="#5ccc5c" opacity=".3"/><rect x="285.8" y="487.2" width="1.8" height="1.8" fill="#347a3e"/>
<rect x="284.9" y="499.3" width="3.6" height="3.6" fill="#5ccc5c" opacity=".3"/><rect x="285.8" y="500.2" width="1.8" height="1.8" fill="#347a3e"/>
<rect x="284.9" y="502.4" width="3.6" height="3.6" fill="#5ccc5c" opacity=".3"/><rect x="285.8" y="503.3" width="1.8" height="1.8" fill="#347a3e"/>
<rect x="284.9" y="504.9" width="3.6" height="3.6" fill="#5ccc5c" opacity=".3"/><rect x="285.8" y="505.8" width="1.8" height="1.8" fill="#347a3e"/>
<rect x="284.9" y="518.4" width="3.6" height="3.6" fill="#5ccc5c" opacity=".3"/><rect x="285.8" y="519.3" width="1.8" height="1.8" fill="#347a3e"/>
<rect x="317.3" y="474.5" width="3.6" height="3.6" fill="#8aa4d8" opacity=".3"/><path d="M319.1 474.9L320.4 477.3L317.8 477.3Z" fill="#2c3850"/>
<rect x="317.3" y="478.3" width="3.6" height="3.6" fill="#8aa4d8" opacity=".3"/><path d="M319.1 478.7L320.4 481.1L317.8 481.1Z" fill="#2c3850"/>
<rect x="311.3" y="483.4" width="3.6" height="3.6" fill="#8aa4d8" opacity=".3"/><path d="M313.1 483.8L314.4 486.2L311.8 486.2Z" fill="#2c3850"/>
<rect x="315.4" y="482.8" width="3.6" height="3.6" fill="#8aa4d8" opacity=".3"/><path d="M317.2 483.2L318.5 485.6L315.9 485.6Z" fill="#2c3850"/>
<rect x="319.2" y="483.4" width="3.6" height="3.6" fill="#8aa4d8" opacity=".3"/><path d="M321 483.8L322.3 486.2L319.7 486.2Z" fill="#2c3850"/>
<rect x="323.1" y="483.2" width="3.6" height="3.6" fill="#8aa4d8" opacity=".3"/><path d="M324.9 483.6L326.2 486L323.6 486Z" fill="#2c3850"/>
<rect x="315.1" y="487.1" width="3.6" height="3.6" fill="#8aa4d8" opacity=".3"/><path d="M316.9 487.5L318.2 489.9L315.6 489.9Z" fill="#2c3850"/>
<rect x="319.2" y="487.1" width="3.6" height="3.6" fill="#8aa4d8" opacity=".3"/><path d="M321 487.5L322.3 489.9L319.7 489.9Z" fill="#2c3850"/>
<text x="458" y="433.3" font-size="9.0" text-anchor="middle">CD19 cell count d+365</text>
<line x1="404.5" y1="442.2" x2="404.5" y2="488.4" stroke="#1a1a1a" stroke-width="1.5"/>
<line x1="404.5" y1="492.5" x2="404.5" y2="523" stroke="#1a1a1a" stroke-width="1.5"/>
<path d="M403.35 487.6L405.6 489.75" stroke="#111" stroke-width="1.25" fill="none"/>
<path d="M403.35 491.1L405.6 493.25" stroke="#111" stroke-width="1.25" fill="none"/>
<line x1="401.2" y1="443.9" x2="404.5" y2="443.9" stroke="#231f20" stroke-width="1.0"/>
<text x="397.6" y="446.3" font-size="6.8" text-anchor="end" textLength="15.8" lengthAdjust="spacingAndGlyphs" class="tk">1000</text>
<line x1="401.2" y1="453.1" x2="404.5" y2="453.1" stroke="#231f20" stroke-width="1.0"/>
<text x="397.6" y="455.5" font-size="6.8" text-anchor="end" textLength="11.85" lengthAdjust="spacingAndGlyphs" class="tk">800</text>
<line x1="401.2" y1="462.2" x2="404.5" y2="462.2" stroke="#231f20" stroke-width="1.0"/>
<text x="397.6" y="464.6" font-size="6.8" text-anchor="end" textLength="11.85" lengthAdjust="spacingAndGlyphs" class="tk">600</text>
<line x1="401.2" y1="471.3" x2="404.5" y2="471.3" stroke="#231f20" stroke-width="1.0"/>
<text x="397.6" y="473.7" font-size="6.8" text-anchor="end" textLength="11.85" lengthAdjust="spacingAndGlyphs" class="tk">400</text>
<line x1="401.2" y1="480.4" x2="404.5" y2="480.4" stroke="#231f20" stroke-width="1.0"/>
<text x="397.6" y="482.8" font-size="6.8" text-anchor="end" textLength="11.85" lengthAdjust="spacingAndGlyphs" class="tk">200</text>
<text x="397.6" y="495.2" font-size="6.8" text-anchor="end" textLength="7.9" lengthAdjust="spacingAndGlyphs" class="tk">10</text>
<line x1="401.2" y1="522.2" x2="404.5" y2="522.2" stroke="#231f20" stroke-width="1.0"/>
<text x="397.6" y="524.6" font-size="6.8" text-anchor="end" textLength="3.95" lengthAdjust="spacingAndGlyphs" class="tk">0</text>
<line x1="403.75" y1="522.3" x2="512.5" y2="522.3" stroke="#1a1a1a" stroke-width="1.4"/>
<line x1="426" y1="522.3" x2="426" y2="525.5" stroke="#231f20" stroke-width="1.0"/>
<text x="426.2" y="534.9" font-size="6.8" text-anchor="middle" textLength="7.9" lengthAdjust="spacingAndGlyphs" class="tk">15</text>
<line x1="458.3" y1="522.3" x2="458.3" y2="525.5" stroke="#231f20" stroke-width="1.0"/>
<text x="458.5" y="534.9" font-size="6.8" text-anchor="middle" textLength="7.9" lengthAdjust="spacingAndGlyphs" class="tk">30</text>
<line x1="490.8" y1="522.3" x2="490.8" y2="525.5" stroke="#231f20" stroke-width="1.0"/>
<text x="491" y="534.9" font-size="6.8" text-anchor="middle" textLength="7.9" lengthAdjust="spacingAndGlyphs" class="tk">60</text>
<text transform="translate(458.2,547.7) scale(0.545,1)" font-size="9.2" font-weight="bold" stroke="#231f20" stroke-width="0.1" text-anchor="middle" textLength="73.76" lengthAdjust="spacing">ATLG [mg/kg]</text>
<text transform="translate(375.5,483.45) rotate(-90) scale(0.68,1)" font-size="9.5" font-weight="bold" stroke="#231f20" stroke-width="0.18" text-anchor="middle" textLength="63.24" lengthAdjust="spacing">CD19<tspan font-size="6.2" dy="-2.9">+</tspan><tspan dy="2.9"> cells/µl</tspan></text>
<line x1="416" y1="464.8" x2="436.5" y2="464.8" stroke="#3a2830" stroke-width="1.0"/>
<line x1="448.3" y1="485.2" x2="468.8" y2="485.2" stroke="#2e4a32" stroke-width="1.0"/>
<line x1="480.1" y1="481" x2="501.6" y2="481" stroke="#333846" stroke-width="1.0"/>
<circle cx="426.1" cy="461.7" r="1.7" fill="#e87896" opacity=".3"/><circle cx="426.1" cy="461.7" r="1.0" fill="#6e1a34"/>
<circle cx="426.1" cy="464.8" r="1.7" fill="#e87896" opacity=".3"/><circle cx="426.1" cy="464.8" r="1.0" fill="#6e1a34"/>
<circle cx="426.1" cy="482.7" r="1.7" fill="#e87896" opacity=".3"/><circle cx="426.1" cy="482.7" r="1.0" fill="#6e1a34"/>
<rect x="456.6" y="462.2" width="3.6" height="3.6" fill="#5ccc5c" opacity=".3"/><rect x="457.5" y="463.1" width="1.8" height="1.8" fill="#347a3e"/>
<rect x="456.6" y="469.4" width="3.6" height="3.6" fill="#5ccc5c" opacity=".3"/><rect x="457.5" y="470.3" width="1.8" height="1.8" fill="#347a3e"/>
<rect x="460.7" y="468" width="3.6" height="3.6" fill="#5ccc5c" opacity=".3"/><rect x="461.6" y="468.9" width="1.8" height="1.8" fill="#347a3e"/>
<rect x="454.6" y="474" width="3.6" height="3.6" fill="#5ccc5c" opacity=".3"/><rect x="455.5" y="474.9" width="1.8" height="1.8" fill="#347a3e"/>
<rect x="458.9" y="473.8" width="3.6" height="3.6" fill="#5ccc5c" opacity=".3"/><rect x="459.8" y="474.7" width="1.8" height="1.8" fill="#347a3e"/>
<rect x="456.6" y="482.6" width="3.6" height="3.6" fill="#5ccc5c" opacity=".3"/><rect x="457.5" y="483.5" width="1.8" height="1.8" fill="#347a3e"/>
<rect x="452.7" y="484.4" width="3.6" height="3.6" fill="#5ccc5c" opacity=".3"/><rect x="453.6" y="485.3" width="1.8" height="1.8" fill="#347a3e"/>
<rect x="456.6" y="485.3" width="3.6" height="3.6" fill="#5ccc5c" opacity=".3"/><rect x="457.5" y="486.2" width="1.8" height="1.8" fill="#347a3e"/>
<rect x="452.7" y="487.2" width="3.6" height="3.6" fill="#5ccc5c" opacity=".3"/><rect x="453.6" y="488.1" width="1.8" height="1.8" fill="#347a3e"/>
<rect x="460.7" y="487.2" width="3.6" height="3.6" fill="#5ccc5c" opacity=".3"/><rect x="461.6" y="488.1" width="1.8" height="1.8" fill="#347a3e"/>
<rect x="456.6" y="513.2" width="3.6" height="3.6" fill="#5ccc5c" opacity=".3"/><rect x="457.5" y="514.1" width="1.8" height="1.8" fill="#347a3e"/>
<rect x="456.6" y="520.2" width="3.6" height="3.6" fill="#5ccc5c" opacity=".3"/><rect x="457.5" y="521.1" width="1.8" height="1.8" fill="#347a3e"/>
<rect x="489.2" y="459.9" width="3.6" height="3.6" fill="#8aa4d8" opacity=".3"/><path d="M491 460.3L492.3 462.7L489.7 462.7Z" fill="#2c3850"/>
<rect x="489.2" y="469.3" width="3.6" height="3.6" fill="#8aa4d8" opacity=".3"/><path d="M491 469.7L492.3 472.1L489.7 472.1Z" fill="#2c3850"/>
<rect x="489.2" y="479.2" width="3.6" height="3.6" fill="#8aa4d8" opacity=".3"/><path d="M491 479.6L492.3 482L489.7 482Z" fill="#2c3850"/>
<rect x="489.2" y="496.7" width="3.6" height="3.6" fill="#8aa4d8" opacity=".3"/><path d="M491 497.1L492.3 499.5L489.7 499.5Z" fill="#2c3850"/>
<rect x="489.2" y="511.3" width="3.6" height="3.6" fill="#8aa4d8" opacity=".3"/><path d="M491 511.7L492.3 514.1L489.7 514.1Z" fill="#2c3850"/>
<text x="7.8" y="569.9" font-size="12.4" text-anchor="start" font-weight="bold" fill="#000" stroke="#000" stroke-width="0.35">E</text>
<text x="115.2" y="571.3" font-size="9.0" text-anchor="middle">CD56 cell count d+30</text>
<line x1="62" y1="582" x2="62" y2="589.1" stroke="#1a1a1a" stroke-width="1.5"/>
<line x1="62" y1="593.3" x2="62" y2="661" stroke="#1a1a1a" stroke-width="1.5"/>
<path d="M60.85 588.3L63.1 590.45" stroke="#111" stroke-width="1.25" fill="none"/>
<path d="M60.85 591.9L63.1 594.05" stroke="#111" stroke-width="1.25" fill="none"/>
<line x1="58.7" y1="584.4" x2="62" y2="584.4" stroke="#231f20" stroke-width="1.0"/>
<text x="55.1" y="586.8" font-size="6.8" text-anchor="end" textLength="15.8" lengthAdjust="spacingAndGlyphs" class="tk">2000</text>
<text x="55.1" y="595.8" font-size="6.8" text-anchor="end" textLength="15.8" lengthAdjust="spacingAndGlyphs" class="tk">1000</text>
<line x1="58.7" y1="606.6" x2="62" y2="606.6" stroke="#231f20" stroke-width="1.0"/>
<text x="55.1" y="609" font-size="6.8" text-anchor="end" textLength="11.85" lengthAdjust="spacingAndGlyphs" class="tk">800</text>
<line x1="58.7" y1="620" x2="62" y2="620" stroke="#231f20" stroke-width="1.0"/>
<text x="55.1" y="622.4" font-size="6.8" text-anchor="end" textLength="11.85" lengthAdjust="spacingAndGlyphs" class="tk">600</text>
<line x1="58.7" y1="633.4" x2="62" y2="633.4" stroke="#231f20" stroke-width="1.0"/>
<text x="55.1" y="635.8" font-size="6.8" text-anchor="end" textLength="11.85" lengthAdjust="spacingAndGlyphs" class="tk">400</text>
<line x1="58.7" y1="646.8" x2="62" y2="646.8" stroke="#231f20" stroke-width="1.0"/>
<text x="55.1" y="649.2" font-size="6.8" text-anchor="end" textLength="11.85" lengthAdjust="spacingAndGlyphs" class="tk">200</text>
<line x1="58.7" y1="660.2" x2="62" y2="660.2" stroke="#231f20" stroke-width="1.0"/>
<text x="55.1" y="662.6" font-size="6.8" text-anchor="end" textLength="3.95" lengthAdjust="spacingAndGlyphs" class="tk">0</text>
<line x1="61.25" y1="660.3" x2="169.4" y2="660.3" stroke="#1a1a1a" stroke-width="1.4"/>
<line x1="83.4" y1="660.3" x2="83.4" y2="663.5" stroke="#231f20" stroke-width="1.0"/>
<text x="83.6" y="672.9" font-size="6.8" text-anchor="middle" textLength="7.9" lengthAdjust="spacingAndGlyphs" class="tk">15</text>
<line x1="115.3" y1="660.3" x2="115.3" y2="663.5" stroke="#231f20" stroke-width="1.0"/>
<text x="115.5" y="672.9" font-size="6.8" text-anchor="middle" textLength="7.9" lengthAdjust="spacingAndGlyphs" class="tk">30</text>
<line x1="147.4" y1="660.3" x2="147.4" y2="663.5" stroke="#231f20" stroke-width="1.0"/>
<text x="147.6" y="672.9" font-size="6.8" text-anchor="middle" textLength="7.9" lengthAdjust="spacingAndGlyphs" class="tk">60</text>
<text transform="translate(115.4,685.7) scale(0.545,1)" font-size="9.2" font-weight="bold" stroke="#231f20" stroke-width="0.1" text-anchor="middle" textLength="73.76" lengthAdjust="spacing">ATLG [mg/kg]</text>
<text transform="translate(33,623.05) rotate(-90) scale(0.68,1)" font-size="9.5" font-weight="bold" stroke="#231f20" stroke-width="0.18" text-anchor="middle" textLength="63.97" lengthAdjust="spacing">CD56<tspan font-size="6.2" dy="-2.9">+</tspan><tspan dy="2.9"> cells/µl</tspan></text>
<line x1="73.3" y1="620.9" x2="94.3" y2="620.9" stroke="#3a2830" stroke-width="1.0"/>
<line x1="105.2" y1="644.2" x2="126.5" y2="644.2" stroke="#2e4a32" stroke-width="1.0"/>
<line x1="137.5" y1="649.2" x2="159.1" y2="649.2" stroke="#333846" stroke-width="1.0"/>
<circle cx="83.7" cy="604.5" r="1.7" fill="#e87896" opacity=".3"/><circle cx="83.7" cy="604.5" r="1.0" fill="#6e1a34"/>
<circle cx="82" cy="620.9" r="1.7" fill="#e87896" opacity=".3"/><circle cx="82" cy="620.9" r="1.0" fill="#6e1a34"/>
<circle cx="86" cy="620" r="1.7" fill="#e87896" opacity=".3"/><circle cx="86" cy="620" r="1.0" fill="#6e1a34"/>
<circle cx="83.7" cy="638.4" r="1.7" fill="#e87896" opacity=".3"/><circle cx="83.7" cy="638.4" r="1.0" fill="#6e1a34"/>
<circle cx="83.7" cy="648" r="1.7" fill="#e87896" opacity=".3"/><circle cx="83.7" cy="648" r="1.0" fill="#6e1a34"/>
<rect x="114.1" y="582" width="3.6" height="3.6" fill="#5ccc5c" opacity=".3"/><rect x="115" y="582.9" width="1.8" height="1.8" fill="#347a3e"/>
<rect x="114.1" y="615.1" width="3.6" height="3.6" fill="#5ccc5c" opacity=".3"/><rect x="115" y="616" width="1.8" height="1.8" fill="#347a3e"/>
<rect x="114.1" y="624.1" width="3.6" height="3.6" fill="#5ccc5c" opacity=".3"/><rect x="115" y="625" width="1.8" height="1.8" fill="#347a3e"/>
<rect x="112" y="626.3" width="3.6" height="3.6" fill="#5ccc5c" opacity=".3"/><rect x="112.9" y="627.2" width="1.8" height="1.8" fill="#347a3e"/>
<rect x="116.1" y="626.3" width="3.6" height="3.6" fill="#5ccc5c" opacity=".3"/><rect x="117" y="627.2" width="1.8" height="1.8" fill="#347a3e"/>
<rect x="114.1" y="630.5" width="3.6" height="3.6" fill="#5ccc5c" opacity=".3"/><rect x="115" y="631.4" width="1.8" height="1.8" fill="#347a3e"/>
<rect x="110" y="637" width="3.6" height="3.6" fill="#5ccc5c" opacity=".3"/><rect x="110.9" y="637.9" width="1.8" height="1.8" fill="#347a3e"/>
<rect x="114.1" y="636.5" width="3.6" height="3.6" fill="#5ccc5c" opacity=".3"/><rect x="115" y="637.4" width="1.8" height="1.8" fill="#347a3e"/>
<rect x="114.1" y="638.7" width="3.6" height="3.6" fill="#5ccc5c" opacity=".3"/><rect x="115" y="639.6" width="1.8" height="1.8" fill="#347a3e"/>
<rect x="106.1" y="641.7" width="3.6" height="3.6" fill="#5ccc5c" opacity=".3"/><rect x="107" y="642.6" width="1.8" height="1.8" fill="#347a3e"/>
<rect x="110" y="643.3" width="3.6" height="3.6" fill="#5ccc5c" opacity=".3"/><rect x="110.9" y="644.2" width="1.8" height="1.8" fill="#347a3e"/>
<rect x="114.1" y="642.7" width="3.6" height="3.6" fill="#5ccc5c" opacity=".3"/><rect x="115" y="643.6" width="1.8" height="1.8" fill="#347a3e"/>
<rect x="118" y="641.9" width="3.6" height="3.6" fill="#5ccc5c" opacity=".3"/><rect x="118.9" y="642.8" width="1.8" height="1.8" fill="#347a3e"/>
<rect x="122" y="642.7" width="3.6" height="3.6" fill="#5ccc5c" opacity=".3"/><rect x="122.9" y="643.6" width="1.8" height="1.8" fill="#347a3e"/>
<rect x="106.1" y="646.3" width="3.6" height="3.6" fill="#5ccc5c" opacity=".3"/><rect x="107" y="647.2" width="1.8" height="1.8" fill="#347a3e"/>
<rect x="110" y="647.1" width="3.6" height="3.6" fill="#5ccc5c" opacity=".3"/><rect x="110.9" y="648" width="1.8" height="1.8" fill="#347a3e"/>
<rect x="114.1" y="647.1" width="3.6" height="3.6" fill="#5ccc5c" opacity=".3"/><rect x="115" y="648" width="1.8" height="1.8" fill="#347a3e"/>
<rect x="118" y="645.2" width="3.6" height="3.6" fill="#5ccc5c" opacity=".3"/><rect x="118.9" y="646.1" width="1.8" height="1.8" fill="#347a3e"/>
<rect x="118" y="647.7" width="3.6" height="3.6" fill="#5ccc5c" opacity=".3"/><rect x="118.9" y="648.6" width="1.8" height="1.8" fill="#347a3e"/>
<rect x="122" y="646.2" width="3.6" height="3.6" fill="#5ccc5c" opacity=".3"/><rect x="122.9" y="647.1" width="1.8" height="1.8" fill="#347a3e"/>
<rect x="118" y="652.3" width="3.6" height="3.6" fill="#5ccc5c" opacity=".3"/><rect x="118.9" y="653.2" width="1.8" height="1.8" fill="#347a3e"/>
<rect x="114.1" y="653.4" width="3.6" height="3.6" fill="#5ccc5c" opacity=".3"/><rect x="115" y="654.3" width="1.8" height="1.8" fill="#347a3e"/>
<rect x="114.1" y="655.3" width="3.6" height="3.6" fill="#5ccc5c" opacity=".3"/><rect x="115" y="656.2" width="1.8" height="1.8" fill="#347a3e"/>
<rect x="114.1" y="657.2" width="3.6" height="3.6" fill="#5ccc5c" opacity=".3"/><rect x="115" y="658.1" width="1.8" height="1.8" fill="#347a3e"/>
<rect x="146.5" y="636.8" width="3.6" height="3.6" fill="#8aa4d8" opacity=".3"/><path d="M148.3 637.2L149.6 639.6L147 639.6Z" fill="#2c3850"/>
<rect x="146.5" y="639.3" width="3.6" height="3.6" fill="#8aa4d8" opacity=".3"/><path d="M148.3 639.7L149.6 642.1L147 642.1Z" fill="#2c3850"/>
<rect x="146.5" y="643.9" width="3.6" height="3.6" fill="#8aa4d8" opacity=".3"/><path d="M148.3 644.3L149.6 646.7L147 646.7Z" fill="#2c3850"/>
<rect x="146.5" y="646.5" width="3.6" height="3.6" fill="#8aa4d8" opacity=".3"/><path d="M148.3 646.9L149.6 649.3L147 649.3Z" fill="#2c3850"/>
<rect x="148.7" y="648" width="3.6" height="3.6" fill="#8aa4d8" opacity=".3"/><path d="M150.5 648.4L151.8 650.8L149.2 650.8Z" fill="#2c3850"/>
<rect x="144.7" y="649.9" width="3.6" height="3.6" fill="#8aa4d8" opacity=".3"/><path d="M146.5 650.3L147.8 652.7L145.2 652.7Z" fill="#2c3850"/>
<rect x="148.7" y="651" width="3.6" height="3.6" fill="#8aa4d8" opacity=".3"/><path d="M150.5 651.4L151.8 653.8L149.2 653.8Z" fill="#2c3850"/>
<rect x="146.5" y="653.1" width="3.6" height="3.6" fill="#8aa4d8" opacity=".3"/><path d="M148.3 653.5L149.6 655.9L147 655.9Z" fill="#2c3850"/>
<line x1="83.7" y1="582.5" x2="147.8" y2="582.5" stroke="#6a6a6a" stroke-width="1.0"/>
<circle cx="115.9" cy="578.4" r="0.95" fill="#222"/>
<text x="286.5" y="571.3" font-size="9.0" text-anchor="middle">CD56 cell count d+90</text>
<line x1="232.7" y1="582" x2="232.7" y2="589.1" stroke="#1a1a1a" stroke-width="1.5"/>
<line x1="232.7" y1="593.3" x2="232.7" y2="661" stroke="#1a1a1a" stroke-width="1.5"/>
<path d="M231.55 588.3L233.8 590.45" stroke="#111" stroke-width="1.25" fill="none"/>
<path d="M231.55 591.9L233.8 594.05" stroke="#111" stroke-width="1.25" fill="none"/>
<line x1="229.4" y1="584.4" x2="232.7" y2="584.4" stroke="#231f20" stroke-width="1.0"/>
<text x="225.8" y="586.8" font-size="6.8" text-anchor="end" textLength="15.8" lengthAdjust="spacingAndGlyphs" class="tk">2000</text>
<text x="225.8" y="595.8" font-size="6.8" text-anchor="end" textLength="15.8" lengthAdjust="spacingAndGlyphs" class="tk">1000</text>
<line x1="229.4" y1="606.6" x2="232.7" y2="606.6" stroke="#231f20" stroke-width="1.0"/>
<text x="225.8" y="609" font-size="6.8" text-anchor="end" textLength="11.85" lengthAdjust="spacingAndGlyphs" class="tk">800</text>
<line x1="229.4" y1="620" x2="232.7" y2="620" stroke="#231f20" stroke-width="1.0"/>
<text x="225.8" y="622.4" font-size="6.8" text-anchor="end" textLength="11.85" lengthAdjust="spacingAndGlyphs" class="tk">600</text>
<line x1="229.4" y1="633.4" x2="232.7" y2="633.4" stroke="#231f20" stroke-width="1.0"/>
<text x="225.8" y="635.8" font-size="6.8" text-anchor="end" textLength="11.85" lengthAdjust="spacingAndGlyphs" class="tk">400</text>
<line x1="229.4" y1="646.8" x2="232.7" y2="646.8" stroke="#231f20" stroke-width="1.0"/>
<text x="225.8" y="649.2" font-size="6.8" text-anchor="end" textLength="11.85" lengthAdjust="spacingAndGlyphs" class="tk">200</text>
<line x1="229.4" y1="660.2" x2="232.7" y2="660.2" stroke="#231f20" stroke-width="1.0"/>
<text x="225.8" y="662.6" font-size="6.8" text-anchor="end" textLength="3.95" lengthAdjust="spacingAndGlyphs" class="tk">0</text>
<line x1="231.95" y1="660.3" x2="341.3" y2="660.3" stroke="#1a1a1a" stroke-width="1.4"/>
<line x1="254.3" y1="660.3" x2="254.3" y2="663.5" stroke="#231f20" stroke-width="1.0"/>
<text x="254.5" y="672.9" font-size="6.8" text-anchor="middle" textLength="7.9" lengthAdjust="spacingAndGlyphs" class="tk">15</text>
<line x1="286.3" y1="660.3" x2="286.3" y2="663.5" stroke="#231f20" stroke-width="1.0"/>
<text x="286.5" y="672.9" font-size="6.8" text-anchor="middle" textLength="7.9" lengthAdjust="spacingAndGlyphs" class="tk">30</text>
<line x1="319" y1="660.3" x2="319" y2="663.5" stroke="#231f20" stroke-width="1.0"/>
<text x="319.2" y="672.9" font-size="6.8" text-anchor="middle" textLength="7.9" lengthAdjust="spacingAndGlyphs" class="tk">60</text>
<text transform="translate(286.7,685.7) scale(0.545,1)" font-size="9.2" font-weight="bold" stroke="#231f20" stroke-width="0.1" text-anchor="middle" textLength="73.76" lengthAdjust="spacing">ATLG [mg/kg]</text>
<text transform="translate(203.7,623.05) rotate(-90) scale(0.68,1)" font-size="9.5" font-weight="bold" stroke="#231f20" stroke-width="0.18" text-anchor="middle" textLength="63.97" lengthAdjust="spacing">CD56<tspan font-size="6.2" dy="-2.9">+</tspan><tspan dy="2.9"> cells/µl</tspan></text>
<line x1="243.8" y1="652.5" x2="264.6" y2="652.5" stroke="#3a2830" stroke-width="1.0"/>
<line x1="276.3" y1="650.3" x2="297" y2="650.3" stroke="#2e4a32" stroke-width="1.0"/>
<line x1="308.2" y1="653.5" x2="329.8" y2="653.5" stroke="#333846" stroke-width="1.0"/>
<circle cx="253.8" cy="651.6" r="1.7" fill="#e87896" opacity=".3"/><circle cx="253.8" cy="651.6" r="1.0" fill="#6e1a34"/>
<circle cx="253.8" cy="653.3" r="1.7" fill="#e87896" opacity=".3"/><circle cx="253.8" cy="653.3" r="1.0" fill="#6e1a34"/>
<rect x="285.1" y="619.8" width="3.6" height="3.6" fill="#5ccc5c" opacity=".3"/><rect x="286" y="620.7" width="1.8" height="1.8" fill="#347a3e"/>
<rect x="285.1" y="626" width="3.6" height="3.6" fill="#5ccc5c" opacity=".3"/><rect x="286" y="626.9" width="1.8" height="1.8" fill="#347a3e"/>
<rect x="285.1" y="629.5" width="3.6" height="3.6" fill="#5ccc5c" opacity=".3"/><rect x="286" y="630.4" width="1.8" height="1.8" fill="#347a3e"/>
<rect x="285.1" y="636" width="3.6" height="3.6" fill="#5ccc5c" opacity=".3"/><rect x="286" y="636.9" width="1.8" height="1.8" fill="#347a3e"/>
<rect x="279" y="644.6" width="3.6" height="3.6" fill="#5ccc5c" opacity=".3"/><rect x="279.9" y="645.5" width="1.8" height="1.8" fill="#347a3e"/>
<rect x="279" y="647.4" width="3.6" height="3.6" fill="#5ccc5c" opacity=".3"/><rect x="279.9" y="648.3" width="1.8" height="1.8" fill="#347a3e"/>
<rect x="279" y="651.3" width="3.6" height="3.6" fill="#5ccc5c" opacity=".3"/><rect x="279.9" y="652.2" width="1.8" height="1.8" fill="#347a3e"/>
<rect x="279" y="654.8" width="3.6" height="3.6" fill="#5ccc5c" opacity=".3"/><rect x="279.9" y="655.7" width="1.8" height="1.8" fill="#347a3e"/>
<rect x="283" y="642.7" width="3.6" height="3.6" fill="#5ccc5c" opacity=".3"/><rect x="283.9" y="643.6" width="1.8" height="1.8" fill="#347a3e"/>
<rect x="283" y="646.1" width="3.6" height="3.6" fill="#5ccc5c" opacity=".3"/><rect x="283.9" y="647" width="1.8" height="1.8" fill="#347a3e"/>
<rect x="283" y="648.9" width="3.6" height="3.6" fill="#5ccc5c" opacity=".3"/><rect x="283.9" y="649.8" width="1.8" height="1.8" fill="#347a3e"/>
<rect x="283" y="651.3" width="3.6" height="3.6" fill="#5ccc5c" opacity=".3"/><rect x="283.9" y="652.2" width="1.8" height="1.8" fill="#347a3e"/>
<rect x="283" y="656.7" width="3.6" height="3.6" fill="#5ccc5c" opacity=".3"/><rect x="283.9" y="657.6" width="1.8" height="1.8" fill="#347a3e"/>
<rect x="287" y="644.9" width="3.6" height="3.6" fill="#5ccc5c" opacity=".3"/><rect x="287.9" y="645.8" width="1.8" height="1.8" fill="#347a3e"/>
<rect x="287" y="648.9" width="3.6" height="3.6" fill="#5ccc5c" opacity=".3"/><rect x="287.9" y="649.8" width="1.8" height="1.8" fill="#347a3e"/>
<rect x="287" y="652.8" width="3.6" height="3.6" fill="#5ccc5c" opacity=".3"/><rect x="287.9" y="653.7" width="1.8" height="1.8" fill="#347a3e"/>
<rect x="287" y="655.2" width="3.6" height="3.6" fill="#5ccc5c" opacity=".3"/><rect x="287.9" y="656.1" width="1.8" height="1.8" fill="#347a3e"/>
<rect x="290.9" y="643.9" width="3.6" height="3.6" fill="#5ccc5c" opacity=".3"/><rect x="291.8" y="644.8" width="1.8" height="1.8" fill="#347a3e"/>
<rect x="290.9" y="646.6" width="3.6" height="3.6" fill="#5ccc5c" opacity=".3"/><rect x="291.8" y="647.5" width="1.8" height="1.8" fill="#347a3e"/>
<rect x="290.9" y="651.3" width="3.6" height="3.6" fill="#5ccc5c" opacity=".3"/><rect x="291.8" y="652.2" width="1.8" height="1.8" fill="#347a3e"/>
<rect x="290.9" y="653.9" width="3.6" height="3.6" fill="#5ccc5c" opacity=".3"/><rect x="291.8" y="654.8" width="1.8" height="1.8" fill="#347a3e"/>
<rect x="317.3" y="648.7" width="3.6" height="3.6" fill="#8aa4d8" opacity=".3"/><path d="M319.1 649.1L320.4 651.5L317.8 651.5Z" fill="#2c3850"/>
<rect x="313.3" y="650.7" width="3.6" height="3.6" fill="#8aa4d8" opacity=".3"/><path d="M315.1 651.1L316.4 653.5L313.8 653.5Z" fill="#2c3850"/>
<rect x="313.3" y="652.9" width="3.6" height="3.6" fill="#8aa4d8" opacity=".3"/><path d="M315.1 653.3L316.4 655.7L313.8 655.7Z" fill="#2c3850"/>
<rect x="317.3" y="651.7" width="3.6" height="3.6" fill="#8aa4d8" opacity=".3"/><path d="M319.1 652.1L320.4 654.5L317.8 654.5Z" fill="#2c3850"/>
<rect x="321.4" y="650.7" width="3.6" height="3.6" fill="#8aa4d8" opacity=".3"/><path d="M323.2 651.1L324.5 653.5L321.9 653.5Z" fill="#2c3850"/>
<rect x="321.4" y="653.5" width="3.6" height="3.6" fill="#8aa4d8" opacity=".3"/><path d="M323.2 653.9L324.5 656.3L321.9 656.3Z" fill="#2c3850"/>
<rect x="317.3" y="654.8" width="3.6" height="3.6" fill="#8aa4d8" opacity=".3"/><path d="M319.1 655.2L320.4 657.6L317.8 657.6Z" fill="#2c3850"/>
<rect x="317.3" y="658" width="3.6" height="3.6" fill="#8aa4d8" opacity=".3"/><path d="M319.1 658.4L320.4 660.8L317.8 660.8Z" fill="#2c3850"/>
<text x="458" y="571.3" font-size="9.0" text-anchor="middle">CD56 cell count d+365</text>
<line x1="404.5" y1="582" x2="404.5" y2="589.1" stroke="#1a1a1a" stroke-width="1.5"/>
<line x1="404.5" y1="593.3" x2="404.5" y2="661" stroke="#1a1a1a" stroke-width="1.5"/>
<path d="M403.35 588.3L405.6 590.45" stroke="#111" stroke-width="1.25" fill="none"/>
<path d="M403.35 591.9L405.6 594.05" stroke="#111" stroke-width="1.25" fill="none"/>
<line x1="401.2" y1="584.4" x2="404.5" y2="584.4" stroke="#231f20" stroke-width="1.0"/>
<text x="397.6" y="586.8" font-size="6.8" text-anchor="end" textLength="15.8" lengthAdjust="spacingAndGlyphs" class="tk">2000</text>
<text x="397.6" y="595.8" font-size="6.8" text-anchor="end" textLength="15.8" lengthAdjust="spacingAndGlyphs" class="tk">1000</text>
<line x1="401.2" y1="606.6" x2="404.5" y2="606.6" stroke="#231f20" stroke-width="1.0"/>
<text x="397.6" y="609" font-size="6.8" text-anchor="end" textLength="11.85" lengthAdjust="spacingAndGlyphs" class="tk">800</text>
<line x1="401.2" y1="620" x2="404.5" y2="620" stroke="#231f20" stroke-width="1.0"/>
<text x="397.6" y="622.4" font-size="6.8" text-anchor="end" textLength="11.85" lengthAdjust="spacingAndGlyphs" class="tk">600</text>
<line x1="401.2" y1="633.4" x2="404.5" y2="633.4" stroke="#231f20" stroke-width="1.0"/>
<text x="397.6" y="635.8" font-size="6.8" text-anchor="end" textLength="11.85" lengthAdjust="spacingAndGlyphs" class="tk">400</text>
<line x1="401.2" y1="646.8" x2="404.5" y2="646.8" stroke="#231f20" stroke-width="1.0"/>
<text x="397.6" y="649.2" font-size="6.8" text-anchor="end" textLength="11.85" lengthAdjust="spacingAndGlyphs" class="tk">200</text>
<line x1="401.2" y1="660.2" x2="404.5" y2="660.2" stroke="#231f20" stroke-width="1.0"/>
<text x="397.6" y="662.6" font-size="6.8" text-anchor="end" textLength="3.95" lengthAdjust="spacingAndGlyphs" class="tk">0</text>
<line x1="403.75" y1="660.3" x2="512.5" y2="660.3" stroke="#1a1a1a" stroke-width="1.4"/>
<line x1="426" y1="660.3" x2="426" y2="663.5" stroke="#231f20" stroke-width="1.0"/>
<text x="426.2" y="672.9" font-size="6.8" text-anchor="middle" textLength="7.9" lengthAdjust="spacingAndGlyphs" class="tk">15</text>
<line x1="458.3" y1="660.3" x2="458.3" y2="663.5" stroke="#231f20" stroke-width="1.0"/>
<text x="458.5" y="672.9" font-size="6.8" text-anchor="middle" textLength="7.9" lengthAdjust="spacingAndGlyphs" class="tk">30</text>
<line x1="490.8" y1="660.3" x2="490.8" y2="663.5" stroke="#231f20" stroke-width="1.0"/>
<text x="491" y="672.9" font-size="6.8" text-anchor="middle" textLength="7.9" lengthAdjust="spacingAndGlyphs" class="tk">60</text>
<text transform="translate(458.2,685.7) scale(0.545,1)" font-size="9.2" font-weight="bold" stroke="#231f20" stroke-width="0.1" text-anchor="middle" textLength="73.76" lengthAdjust="spacing">ATLG [mg/kg]</text>
<text transform="translate(375.5,623.05) rotate(-90) scale(0.68,1)" font-size="9.5" font-weight="bold" stroke="#231f20" stroke-width="0.18" text-anchor="middle" textLength="63.97" lengthAdjust="spacing">CD56<tspan font-size="6.2" dy="-2.9">+</tspan><tspan dy="2.9"> cells/µl</tspan></text>
<line x1="416" y1="655.2" x2="436.5" y2="655.2" stroke="#3a2830" stroke-width="1.0"/>
<line x1="448.3" y1="647.3" x2="468.8" y2="647.3" stroke="#2e4a32" stroke-width="1.0"/>
<line x1="480.2" y1="652.3" x2="501.1" y2="652.3" stroke="#333846" stroke-width="1.0"/>
<circle cx="425.8" cy="629" r="1.7" fill="#e87896" opacity=".3"/><circle cx="425.8" cy="629" r="1.0" fill="#6e1a34"/>
<circle cx="425.8" cy="655.2" r="1.7" fill="#e87896" opacity=".3"/><circle cx="425.8" cy="655.2" r="1.0" fill="#6e1a34"/>
<circle cx="425.8" cy="658.3" r="1.7" fill="#e87896" opacity=".3"/><circle cx="425.8" cy="658.3" r="1.0" fill="#6e1a34"/>
<rect x="456.6" y="593.4" width="3.6" height="3.6" fill="#5ccc5c" opacity=".3"/><rect x="457.5" y="594.3" width="1.8" height="1.8" fill="#347a3e"/>
<rect x="452.3" y="630" width="3.6" height="3.6" fill="#5ccc5c" opacity=".3"/><rect x="453.2" y="630.9" width="1.8" height="1.8" fill="#347a3e"/>
<rect x="456.6" y="631.8" width="3.6" height="3.6" fill="#5ccc5c" opacity=".3"/><rect x="457.5" y="632.7" width="1.8" height="1.8" fill="#347a3e"/>
<rect x="452.3" y="641.9" width="3.6" height="3.6" fill="#5ccc5c" opacity=".3"/><rect x="453.2" y="642.8" width="1.8" height="1.8" fill="#347a3e"/>
<rect x="456.6" y="643" width="3.6" height="3.6" fill="#5ccc5c" opacity=".3"/><rect x="457.5" y="643.9" width="1.8" height="1.8" fill="#347a3e"/>
<rect x="460.4" y="641.5" width="3.6" height="3.6" fill="#5ccc5c" opacity=".3"/><rect x="461.3" y="642.4" width="1.8" height="1.8" fill="#347a3e"/>
<rect x="452.3" y="649.9" width="3.6" height="3.6" fill="#5ccc5c" opacity=".3"/><rect x="453.2" y="650.8" width="1.8" height="1.8" fill="#347a3e"/>
<rect x="456.6" y="648.2" width="3.6" height="3.6" fill="#5ccc5c" opacity=".3"/><rect x="457.5" y="649.1" width="1.8" height="1.8" fill="#347a3e"/>
<rect x="456.6" y="650.5" width="3.6" height="3.6" fill="#5ccc5c" opacity=".3"/><rect x="457.5" y="651.4" width="1.8" height="1.8" fill="#347a3e"/>
<rect x="460.4" y="649.9" width="3.6" height="3.6" fill="#5ccc5c" opacity=".3"/><rect x="461.3" y="650.8" width="1.8" height="1.8" fill="#347a3e"/>
<rect x="454.6" y="654.2" width="3.6" height="3.6" fill="#5ccc5c" opacity=".3"/><rect x="455.5" y="655.1" width="1.8" height="1.8" fill="#347a3e"/>
<rect x="458.4" y="654.2" width="3.6" height="3.6" fill="#5ccc5c" opacity=".3"/><rect x="459.3" y="655.1" width="1.8" height="1.8" fill="#347a3e"/>
<rect x="484.8" y="643.1" width="3.6" height="3.6" fill="#8aa4d8" opacity=".3"/><path d="M486.6 643.5L487.9 645.9L485.3 645.9Z" fill="#2c3850"/>
<rect x="488.9" y="645.4" width="3.6" height="3.6" fill="#8aa4d8" opacity=".3"/><path d="M490.7 645.8L492 648.2L489.4 648.2Z" fill="#2c3850"/>
<rect x="488.9" y="650.5" width="3.6" height="3.6" fill="#8aa4d8" opacity=".3"/><path d="M490.7 650.9L492 653.3L489.4 653.3Z" fill="#2c3850"/>
<rect x="484.8" y="652.7" width="3.6" height="3.6" fill="#8aa4d8" opacity=".3"/><path d="M486.6 653.1L487.9 655.5L485.3 655.5Z" fill="#2c3850"/>
<rect x="493.1" y="651.9" width="3.6" height="3.6" fill="#8aa4d8" opacity=".3"/><path d="M494.9 652.3L496.2 654.7L493.6 654.7Z" fill="#2c3850"/>
</svg></body></html>
